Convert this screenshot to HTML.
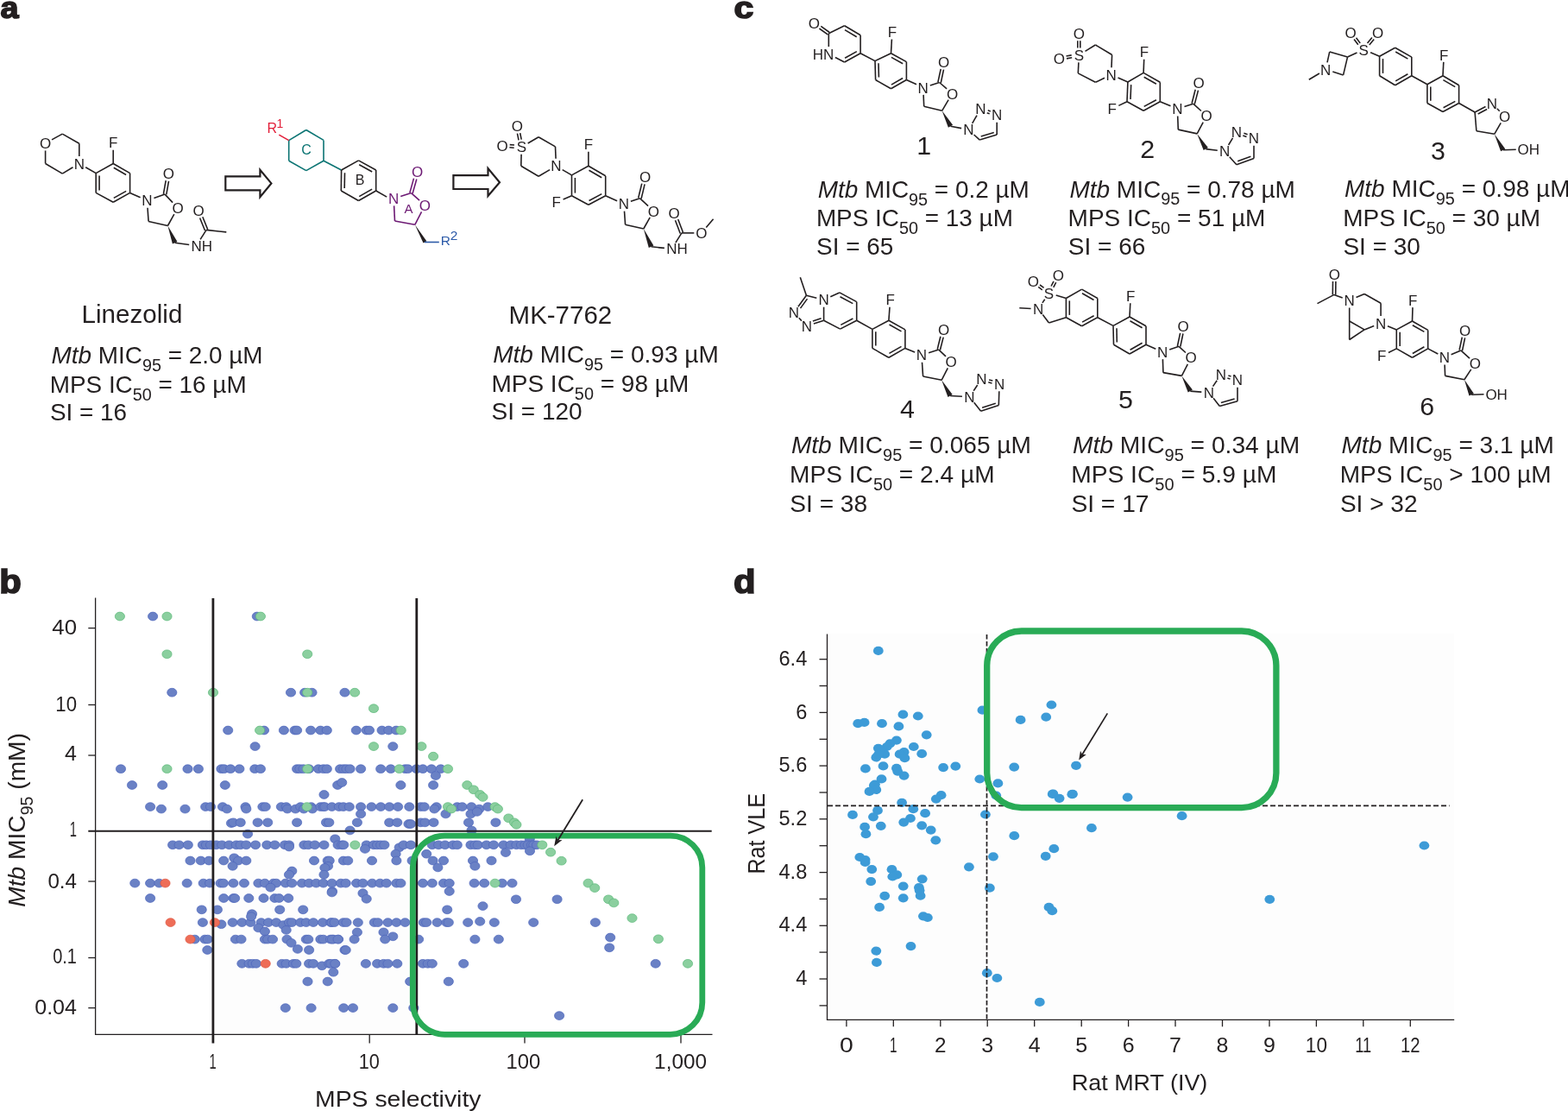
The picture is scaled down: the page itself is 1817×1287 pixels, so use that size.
<!DOCTYPE html>
<html><head><meta charset="utf-8"><title>Figure</title>
<style>
html,body{margin:0;padding:0;background:#fff;overflow:hidden;width:1817px;height:1287px;}
svg{display:block;}
svg{font-family:"Liberation Sans",Arial,Helvetica,sans-serif;fill:#231f20;}
</style></head><body>
<svg width="1817" height="1287" viewBox="0 0 1817 1287">
<rect width="1817" height="1287" fill="#fff"/>
<line x1="60" y1="161.9" x2="72.3" y2="155.1" stroke="#231f20" stroke-width="1.6"/>
<line x1="72.3" y1="155.1" x2="91.8" y2="166.2" stroke="#231f20" stroke-width="1.6"/>
<line x1="91.8" y1="166.2" x2="91.8" y2="181" stroke="#231f20" stroke-width="1.6"/>
<line x1="84.5" y1="193.8" x2="72.3" y2="201.1" stroke="#231f20" stroke-width="1.6"/>
<line x1="72.3" y1="201.1" x2="52.6" y2="189.5" stroke="#231f20" stroke-width="1.6"/>
<line x1="52.6" y1="189.5" x2="52.6" y2="174.5" stroke="#231f20" stroke-width="1.6"/>
<line x1="99.2" y1="193.7" x2="111.2" y2="200.6" stroke="#231f20" stroke-width="1.6"/>
<line x1="131.2" y1="189.5" x2="131.2" y2="173.7" stroke="#231f20" stroke-width="1.6"/>
<line x1="111.2" y1="200.6" x2="131.2" y2="189.5" stroke="#231f20" stroke-width="1.6"/>
<line x1="131.2" y1="189.5" x2="150.6" y2="200.6" stroke="#231f20" stroke-width="1.6"/>
<line x1="150.6" y1="200.6" x2="150.6" y2="223.4" stroke="#231f20" stroke-width="1.6"/>
<line x1="150.6" y1="223.4" x2="131.2" y2="234.2" stroke="#231f20" stroke-width="1.6"/>
<line x1="131.2" y1="234.2" x2="111.2" y2="223.4" stroke="#231f20" stroke-width="1.6"/>
<line x1="111.2" y1="223.4" x2="111.2" y2="200.6" stroke="#231f20" stroke-width="1.6"/>
<line x1="131.8" y1="194.3" x2="146.1" y2="202.5" stroke="#231f20" stroke-width="1.6"/>
<line x1="115.1" y1="220.4" x2="115.1" y2="203.6" stroke="#231f20" stroke-width="1.6"/>
<line x1="146.2" y1="221.4" x2="131.8" y2="229.4" stroke="#231f20" stroke-width="1.6"/>
<line x1="150.6" y1="223.4" x2="162.6" y2="228.7" stroke="#231f20" stroke-width="1.6"/>
<line x1="178.4" y1="229.4" x2="191.1" y2="225.1" stroke="#231f20" stroke-width="1.6"/>
<line x1="191.1" y1="225.1" x2="200.1" y2="234.6" stroke="#231f20" stroke-width="1.6"/>
<line x1="201.8" y1="248.2" x2="194.4" y2="261.5" stroke="#231f20" stroke-width="1.6"/>
<line x1="194.4" y1="261.5" x2="172.1" y2="256.5" stroke="#231f20" stroke-width="1.6"/>
<line x1="172.1" y1="256.5" x2="171" y2="240.7" stroke="#231f20" stroke-width="1.6"/>
<line x1="192.8" y1="225.4" x2="195.5" y2="209.8" stroke="#231f20" stroke-width="1.6"/>
<line x1="189.4" y1="224.8" x2="192.2" y2="209.2" stroke="#231f20" stroke-width="1.6"/>
<polygon points="194.4,261.5 199.9,282.5 205.5,280.1" fill="#231f20"/>
<line x1="202.7" y1="281.3" x2="219.2" y2="283.5" stroke="#231f20" stroke-width="1.6"/>
<line x1="232.1" y1="277.4" x2="239.1" y2="266.4" stroke="#231f20" stroke-width="1.6"/>
<line x1="239.1" y1="266.4" x2="262.3" y2="268.9" stroke="#231f20" stroke-width="1.6"/>
<line x1="240.7" y1="265.8" x2="234.8" y2="251.2" stroke="#231f20" stroke-width="1.6"/>
<line x1="237.5" y1="267" x2="231.6" y2="252.5" stroke="#231f20" stroke-width="1.6"/>
<text x="52.6" y="172.1" font-size="17" fill="#231f20" text-anchor="middle">O</text>
<text x="91.8" y="195.6" font-size="17" fill="#231f20" text-anchor="middle">N</text>
<text x="131.2" y="171.3" font-size="17" fill="#231f20" text-anchor="middle">F</text>
<text x="170.4" y="238.3" font-size="17" fill="#231f20" text-anchor="middle">N</text>
<text x="195.3" y="207.2" font-size="17" fill="#231f20" text-anchor="middle">O</text>
<text x="206" y="246.9" font-size="17" fill="#231f20" text-anchor="middle">O</text>
<text x="221.5" y="290.7" font-size="17" fill="#231f20">NH</text>
<text x="230" y="250.1" font-size="17" fill="#231f20" text-anchor="middle">O</text>
<line x1="354.8" y1="150.5" x2="375" y2="162.4" stroke="#0b7473" stroke-width="1.6"/>
<line x1="375" y1="162.4" x2="375" y2="186.2" stroke="#0b7473" stroke-width="1.6"/>
<line x1="375" y1="186.2" x2="354.8" y2="197.6" stroke="#0b7473" stroke-width="1.6"/>
<line x1="354.8" y1="197.6" x2="334.7" y2="186.2" stroke="#0b7473" stroke-width="1.6"/>
<line x1="334.7" y1="186.2" x2="334.7" y2="162.6" stroke="#0b7473" stroke-width="1.6"/>
<line x1="334.7" y1="162.6" x2="354.8" y2="150.5" stroke="#0b7473" stroke-width="1.6"/>
<line x1="375" y1="186.2" x2="395.6" y2="197" stroke="#0b7473" stroke-width="1.6"/>
<line x1="334.7" y1="162.6" x2="323.3" y2="156.1" stroke="#e2203a" stroke-width="1.6"/>
<line x1="395.6" y1="197" x2="415.5" y2="185.9" stroke="#231f20" stroke-width="1.6"/>
<line x1="415.5" y1="185.9" x2="435.7" y2="197" stroke="#231f20" stroke-width="1.6"/>
<line x1="435.7" y1="197" x2="435.7" y2="221" stroke="#231f20" stroke-width="1.6"/>
<line x1="435.7" y1="221" x2="415.5" y2="232.5" stroke="#231f20" stroke-width="1.6"/>
<line x1="415.5" y1="232.5" x2="395.3" y2="221" stroke="#231f20" stroke-width="1.6"/>
<line x1="395.3" y1="221" x2="395.6" y2="197" stroke="#231f20" stroke-width="1.6"/>
<line x1="416.2" y1="190.8" x2="431.2" y2="199" stroke="#231f20" stroke-width="1.6"/>
<line x1="399.2" y1="217.9" x2="399.5" y2="200.2" stroke="#231f20" stroke-width="1.6"/>
<line x1="431.1" y1="219.1" x2="416.2" y2="227.6" stroke="#231f20" stroke-width="1.6"/>
<line x1="435.7" y1="221" x2="448.2" y2="228.1" stroke="#231f20" stroke-width="1.6"/>
<line x1="464.2" y1="227.4" x2="476.5" y2="223.6" stroke="#6d1a74" stroke-width="1.6"/>
<line x1="476.5" y1="223.6" x2="486.1" y2="232.1" stroke="#6d1a74" stroke-width="1.6"/>
<line x1="488.5" y1="245.4" x2="480.8" y2="260.3" stroke="#6d1a74" stroke-width="1.6"/>
<line x1="480.8" y1="260.3" x2="457.5" y2="256" stroke="#6d1a74" stroke-width="1.6"/>
<line x1="457.5" y1="256" x2="456.6" y2="238.4" stroke="#6d1a74" stroke-width="1.6"/>
<line x1="478.1" y1="224.1" x2="482.8" y2="207.5" stroke="#6d1a74" stroke-width="1.6"/>
<line x1="474.9" y1="223.1" x2="479.5" y2="206.6" stroke="#6d1a74" stroke-width="1.6"/>
<polygon points="480.8,260.3 490.5,281.4 494.3,279.2" fill="#231f20"/>
<line x1="492" y1="280.5" x2="508.8" y2="280.5" stroke="#2c5aa8" stroke-width="1.6"/>
<text x="456.1" y="236" font-size="17" fill="#6d1a74" text-anchor="middle">N</text>
<text x="483.5" y="205" font-size="17" fill="#6d1a74" text-anchor="middle">O</text>
<text x="492.4" y="243.9" font-size="17" fill="#6d1a74" text-anchor="middle">O</text>
<text x="355" y="178.6" font-size="16" fill="#0b7473" text-anchor="middle">C</text>
<text x="417.1" y="214.2" font-size="16" fill="#231f20" text-anchor="middle">B</text>
<text x="473.4" y="246.7" font-size="15" fill="#6d1a74" text-anchor="middle">A</text>
<text x="309.6" y="153.8" font-size="16" fill="#e2203a">R</text>
<text x="320.4" y="148.2" font-size="14" fill="#e2203a">1</text>
<text x="510.8" y="283.6" font-size="15.5" fill="#2c5aa8">R</text>
<text x="521.8" y="277.8" font-size="15.5" fill="#2c5aa8">2</text>
<line x1="611.7" y1="166" x2="624.1" y2="158.8" stroke="#231f20" stroke-width="1.6"/>
<line x1="624.1" y1="158.8" x2="643.5" y2="169.9" stroke="#231f20" stroke-width="1.6"/>
<line x1="643.5" y1="169.9" x2="644.1" y2="183.8" stroke="#231f20" stroke-width="1.6"/>
<line x1="637.1" y1="196.6" x2="624.1" y2="204.3" stroke="#231f20" stroke-width="1.6"/>
<line x1="624.1" y1="204.3" x2="603.8" y2="192.3" stroke="#231f20" stroke-width="1.6"/>
<line x1="603.8" y1="192.3" x2="604.1" y2="178.8" stroke="#231f20" stroke-width="1.6"/>
<line x1="651.7" y1="196.6" x2="662.5" y2="202.9" stroke="#231f20" stroke-width="1.6"/>
<line x1="681.9" y1="192.3" x2="681.9" y2="175.7" stroke="#231f20" stroke-width="1.6"/>
<line x1="662.5" y1="226.7" x2="652.6" y2="230.9" stroke="#231f20" stroke-width="1.6"/>
<line x1="604.2" y1="161.7" x2="602.7" y2="154.1" stroke="#231f20" stroke-width="1.6"/>
<line x1="601" y1="162.3" x2="599.5" y2="154.7" stroke="#231f20" stroke-width="1.6"/>
<line x1="596" y1="168" x2="590.7" y2="167.6" stroke="#231f20" stroke-width="1.6"/>
<line x1="595.7" y1="171.2" x2="590.4" y2="170.8" stroke="#231f20" stroke-width="1.6"/>
<line x1="662.5" y1="202.9" x2="681.9" y2="192.3" stroke="#231f20" stroke-width="1.6"/>
<line x1="681.9" y1="192.3" x2="701.7" y2="203.8" stroke="#231f20" stroke-width="1.6"/>
<line x1="701.7" y1="203.8" x2="701.7" y2="226.7" stroke="#231f20" stroke-width="1.6"/>
<line x1="701.7" y1="226.7" x2="681.9" y2="237.3" stroke="#231f20" stroke-width="1.6"/>
<line x1="681.9" y1="237.3" x2="662.5" y2="226.7" stroke="#231f20" stroke-width="1.6"/>
<line x1="662.5" y1="226.7" x2="662.5" y2="202.9" stroke="#231f20" stroke-width="1.6"/>
<line x1="682.5" y1="197.2" x2="697.2" y2="205.7" stroke="#231f20" stroke-width="1.6"/>
<line x1="666.4" y1="223.6" x2="666.4" y2="206" stroke="#231f20" stroke-width="1.6"/>
<line x1="697.3" y1="224.6" x2="682.6" y2="232.5" stroke="#231f20" stroke-width="1.6"/>
<line x1="701.7" y1="226.7" x2="715.1" y2="232.7" stroke="#231f20" stroke-width="1.6"/>
<line x1="730.9" y1="233.3" x2="741.4" y2="229.7" stroke="#231f20" stroke-width="1.6"/>
<line x1="741.4" y1="229.7" x2="751.1" y2="238.6" stroke="#231f20" stroke-width="1.6"/>
<line x1="753.2" y1="251.8" x2="745.8" y2="265" stroke="#231f20" stroke-width="1.6"/>
<line x1="745.8" y1="265" x2="724.6" y2="260.2" stroke="#231f20" stroke-width="1.6"/>
<line x1="724.6" y1="260.2" x2="723.5" y2="244.6" stroke="#231f20" stroke-width="1.6"/>
<line x1="743.1" y1="230.1" x2="747.1" y2="213.4" stroke="#231f20" stroke-width="1.6"/>
<line x1="739.7" y1="229.3" x2="743.8" y2="212.6" stroke="#231f20" stroke-width="1.6"/>
<polygon points="745.8,265 751.8,287 757.4,284.6" fill="#231f20"/>
<line x1="754.6" y1="285.8" x2="769.9" y2="287.4" stroke="#231f20" stroke-width="1.6"/>
<line x1="782.9" y1="281.1" x2="789.9" y2="269.9" stroke="#231f20" stroke-width="1.6"/>
<line x1="789.9" y1="269.9" x2="804.3" y2="269.9" stroke="#231f20" stroke-width="1.6"/>
<line x1="818.3" y1="263.4" x2="826.6" y2="253.7" stroke="#231f20" stroke-width="1.6"/>
<line x1="791.5" y1="269.3" x2="785.7" y2="254" stroke="#231f20" stroke-width="1.6"/>
<line x1="788.3" y1="270.5" x2="782.5" y2="255.3" stroke="#231f20" stroke-width="1.6"/>
<text x="604.3" y="176.4" font-size="17" fill="#231f20" text-anchor="middle">S</text>
<text x="599.4" y="152.2" font-size="17" fill="#231f20" text-anchor="middle">O</text>
<text x="582.1" y="174.6" font-size="17" fill="#231f20" text-anchor="middle">O</text>
<text x="644.4" y="198.4" font-size="17" fill="#231f20" text-anchor="middle">N</text>
<text x="681.9" y="173.3" font-size="17" fill="#231f20" text-anchor="middle">F</text>
<text x="644.8" y="240.4" font-size="17" fill="#231f20" text-anchor="middle">F</text>
<text x="722.9" y="242.2" font-size="17" fill="#231f20" text-anchor="middle">N</text>
<text x="747.5" y="210.8" font-size="17" fill="#231f20" text-anchor="middle">O</text>
<text x="757.3" y="250.5" font-size="17" fill="#231f20" text-anchor="middle">O</text>
<text x="772.3" y="294.4" font-size="17" fill="#231f20">NH</text>
<text x="781.1" y="252.8" font-size="17" fill="#231f20" text-anchor="middle">O</text>
<text x="812.8" y="276" font-size="17" fill="#231f20" text-anchor="middle">O</text>
<polygon points="261.3,204.4 301.4,204.4 301.4,196.7 314.4,212.4 301.4,228.1 301.4,220.4 261.3,220.4" fill="#fff" stroke="#231f20" stroke-width="2.2" stroke-linejoin="miter"/>
<polygon points="525.4,203.2 565.5,203.2 565.5,195.1 579,211.2 565.5,227 565.5,219 525.4,219" fill="#fff" stroke="#231f20" stroke-width="2.2" stroke-linejoin="miter"/>
<line x1="960.3" y1="38.8" x2="978.6" y2="29.8" stroke="#231f20" stroke-width="1.6"/>
<line x1="978.6" y1="29.8" x2="997.1" y2="40.8" stroke="#231f20" stroke-width="1.6"/>
<line x1="997.1" y1="40.8" x2="997.1" y2="61.7" stroke="#231f20" stroke-width="1.6"/>
<line x1="997.1" y1="61.7" x2="978.6" y2="72" stroke="#231f20" stroke-width="1.6"/>
<line x1="978.6" y1="72" x2="967.9" y2="66.5" stroke="#231f20" stroke-width="1.6"/>
<line x1="960.3" y1="54.1" x2="960.3" y2="38.8" stroke="#231f20" stroke-width="1.6"/>
<line x1="997.1" y1="61.7" x2="1014" y2="70.6" stroke="#231f20" stroke-width="1.6"/>
<line x1="1032.5" y1="61.7" x2="1033.4" y2="45.5" stroke="#231f20" stroke-width="1.6"/>
<line x1="961.2" y1="37.5" x2="951.3" y2="30.4" stroke="#231f20" stroke-width="1.6"/>
<line x1="959.4" y1="40.1" x2="949.4" y2="33" stroke="#231f20" stroke-width="1.6"/>
<line x1="979" y1="34.6" x2="992.7" y2="42.7" stroke="#231f20" stroke-width="1.6"/>
<line x1="992.8" y1="59.6" x2="979.1" y2="67.3" stroke="#231f20" stroke-width="1.6"/>
<line x1="1014" y1="70.6" x2="1032.5" y2="61.7" stroke="#231f20" stroke-width="1.6"/>
<line x1="1032.5" y1="61.7" x2="1050.4" y2="71.6" stroke="#231f20" stroke-width="1.6"/>
<line x1="1050.4" y1="71.6" x2="1050.4" y2="92.5" stroke="#231f20" stroke-width="1.6"/>
<line x1="1050.4" y1="92.5" x2="1032.5" y2="102.8" stroke="#231f20" stroke-width="1.6"/>
<line x1="1032.5" y1="102.8" x2="1014.6" y2="92.5" stroke="#231f20" stroke-width="1.6"/>
<line x1="1014.6" y1="92.5" x2="1014" y2="70.6" stroke="#231f20" stroke-width="1.6"/>
<line x1="1032.9" y1="66.4" x2="1046.2" y2="73.7" stroke="#231f20" stroke-width="1.6"/>
<line x1="1018.4" y1="89.5" x2="1018" y2="73.3" stroke="#231f20" stroke-width="1.6"/>
<line x1="1046.1" y1="90.5" x2="1032.9" y2="98.1" stroke="#231f20" stroke-width="1.6"/>
<line x1="1050.4" y1="92.5" x2="1062" y2="97.8" stroke="#231f20" stroke-width="1.6"/>
<line x1="1077.8" y1="98.9" x2="1088.6" y2="95.5" stroke="#231f20" stroke-width="1.6"/>
<line x1="1088.6" y1="95.5" x2="1097.1" y2="102.8" stroke="#231f20" stroke-width="1.6"/>
<line x1="1099.1" y1="115.7" x2="1091.6" y2="128.3" stroke="#231f20" stroke-width="1.6"/>
<line x1="1091.6" y1="128.3" x2="1070.7" y2="123.3" stroke="#231f20" stroke-width="1.6"/>
<line x1="1070.7" y1="123.3" x2="1070.1" y2="109.9" stroke="#231f20" stroke-width="1.6"/>
<line x1="1090.3" y1="95.9" x2="1093.5" y2="80.7" stroke="#231f20" stroke-width="1.6"/>
<line x1="1086.9" y1="95.1" x2="1090.2" y2="80" stroke="#231f20" stroke-width="1.6"/>
<polygon points="1091.6,128.3 1098.9,147.7 1104.1,144.7" fill="#231f20"/>
<line x1="1101.5" y1="146.2" x2="1114.1" y2="148.6" stroke="#231f20" stroke-width="1.6"/>
<line x1="1126.7" y1="142.9" x2="1132" y2="133.6" stroke="#231f20" stroke-width="1.6"/>
<line x1="1155.2" y1="141.8" x2="1155.2" y2="156.1" stroke="#231f20" stroke-width="1.6"/>
<line x1="1135.3" y1="162.1" x2="1128.6" y2="156" stroke="#231f20" stroke-width="1.6"/>
<line x1="1143.7" y1="130.7" x2="1146.7" y2="131.8" stroke="#231f20" stroke-width="1.6"/>
<line x1="1144.8" y1="127.8" x2="1147.8" y2="128.9" stroke="#231f20" stroke-width="1.6"/>
<line x1="1155.2" y1="156.1" x2="1135.3" y2="162.1" stroke="#231f20" stroke-width="1.6"/>
<line x1="1151.8" y1="153.6" x2="1136.7" y2="158.1" stroke="#231f20" stroke-width="1.6"/>
<text x="943.4" y="32.9" font-size="17" fill="#231f20" text-anchor="middle">O</text>
<text x="966.4" y="68.7" font-size="17" fill="#231f20" text-anchor="end">HN</text>
<text x="1033.9" y="43.1" font-size="17" fill="#231f20" text-anchor="middle">F</text>
<text x="1069.7" y="107.5" font-size="17" fill="#231f20" text-anchor="middle">N</text>
<text x="1093.6" y="78.1" font-size="17" fill="#231f20" text-anchor="middle">O</text>
<text x="1103.5" y="114.5" font-size="17" fill="#231f20" text-anchor="middle">O</text>
<text x="1122.4" y="156.3" font-size="17" fill="#231f20" text-anchor="middle">N</text>
<text x="1136.3" y="132.4" font-size="17" fill="#231f20" text-anchor="middle">N</text>
<text x="1155.2" y="139.4" font-size="17" fill="#231f20" text-anchor="middle">N</text>
<text x="1070.7" y="179" font-size="30.4" fill="#231f20" text-anchor="middle">1</text>
<line x1="1257.5" y1="59.4" x2="1269.4" y2="52" stroke="#231f20" stroke-width="1.6"/>
<line x1="1269.4" y1="52" x2="1288.6" y2="63.5" stroke="#231f20" stroke-width="1.6"/>
<line x1="1288.6" y1="63.5" x2="1288" y2="78.2" stroke="#231f20" stroke-width="1.6"/>
<line x1="1280" y1="90.3" x2="1269.4" y2="95.3" stroke="#231f20" stroke-width="1.6"/>
<line x1="1269.4" y1="95.3" x2="1249.3" y2="84.9" stroke="#231f20" stroke-width="1.6"/>
<line x1="1249.3" y1="84.9" x2="1249.9" y2="72.4" stroke="#231f20" stroke-width="1.6"/>
<line x1="1295.5" y1="90.1" x2="1306.9" y2="95" stroke="#231f20" stroke-width="1.6"/>
<line x1="1325.1" y1="84.4" x2="1325.7" y2="68.8" stroke="#231f20" stroke-width="1.6"/>
<line x1="1306" y1="117.8" x2="1296.3" y2="122.4" stroke="#231f20" stroke-width="1.6"/>
<line x1="1251.8" y1="55.4" x2="1251.8" y2="47.2" stroke="#231f20" stroke-width="1.6"/>
<line x1="1248.8" y1="55.4" x2="1248.8" y2="47.2" stroke="#231f20" stroke-width="1.6"/>
<line x1="1241.7" y1="63.9" x2="1235.5" y2="65" stroke="#231f20" stroke-width="1.6"/>
<line x1="1242.2" y1="66.8" x2="1236" y2="67.9" stroke="#231f20" stroke-width="1.6"/>
<line x1="1306.9" y1="95" x2="1325.1" y2="84.4" stroke="#231f20" stroke-width="1.6"/>
<line x1="1325.1" y1="84.4" x2="1344.3" y2="95.3" stroke="#231f20" stroke-width="1.6"/>
<line x1="1344.3" y1="95.3" x2="1344.3" y2="117.8" stroke="#231f20" stroke-width="1.6"/>
<line x1="1344.3" y1="117.8" x2="1325.1" y2="128.2" stroke="#231f20" stroke-width="1.6"/>
<line x1="1325.1" y1="128.2" x2="1306" y2="117.8" stroke="#231f20" stroke-width="1.6"/>
<line x1="1306" y1="117.8" x2="1306.9" y2="95" stroke="#231f20" stroke-width="1.6"/>
<line x1="1325.7" y1="89.2" x2="1339.9" y2="97.3" stroke="#231f20" stroke-width="1.6"/>
<line x1="1310" y1="115" x2="1310.7" y2="98.1" stroke="#231f20" stroke-width="1.6"/>
<line x1="1339.9" y1="115.7" x2="1325.7" y2="123.4" stroke="#231f20" stroke-width="1.6"/>
<line x1="1344.3" y1="117.8" x2="1356.5" y2="122.8" stroke="#231f20" stroke-width="1.6"/>
<line x1="1372.5" y1="123.4" x2="1382.7" y2="120.2" stroke="#231f20" stroke-width="1.6"/>
<line x1="1382.7" y1="120.2" x2="1391.9" y2="128.5" stroke="#231f20" stroke-width="1.6"/>
<line x1="1394.2" y1="141.7" x2="1387.2" y2="154.9" stroke="#231f20" stroke-width="1.6"/>
<line x1="1387.2" y1="154.9" x2="1365.3" y2="150.1" stroke="#231f20" stroke-width="1.6"/>
<line x1="1365.3" y1="150.1" x2="1364.7" y2="134.5" stroke="#231f20" stroke-width="1.6"/>
<line x1="1384.3" y1="120.6" x2="1388.5" y2="104.6" stroke="#231f20" stroke-width="1.6"/>
<line x1="1381.1" y1="119.8" x2="1385.2" y2="103.7" stroke="#231f20" stroke-width="1.6"/>
<polygon points="1387.2,154.9 1394.7,174.1 1399.9,171.1" fill="#231f20"/>
<line x1="1397.3" y1="172.6" x2="1410.8" y2="174.3" stroke="#231f20" stroke-width="1.6"/>
<line x1="1423.6" y1="168" x2="1428.5" y2="159.8" stroke="#231f20" stroke-width="1.6"/>
<line x1="1453" y1="168.8" x2="1453" y2="183.5" stroke="#231f20" stroke-width="1.6"/>
<line x1="1432.9" y1="190.8" x2="1424.8" y2="181.7" stroke="#231f20" stroke-width="1.6"/>
<line x1="1440.3" y1="157" x2="1444.5" y2="158.6" stroke="#231f20" stroke-width="1.6"/>
<line x1="1441.4" y1="154.2" x2="1445.6" y2="155.8" stroke="#231f20" stroke-width="1.6"/>
<line x1="1453" y1="183.5" x2="1432.9" y2="190.8" stroke="#231f20" stroke-width="1.6"/>
<line x1="1449.4" y1="181.2" x2="1434.2" y2="186.7" stroke="#231f20" stroke-width="1.6"/>
<text x="1250.3" y="70" font-size="17" fill="#231f20" text-anchor="middle">S</text>
<text x="1250.3" y="44.8" font-size="17" fill="#231f20" text-anchor="middle">O</text>
<text x="1227.4" y="74" font-size="17" fill="#231f20" text-anchor="middle">O</text>
<text x="1287.7" y="92.8" font-size="17" fill="#231f20" text-anchor="middle">N</text>
<text x="1326" y="66.4" font-size="17" fill="#231f20" text-anchor="middle">F</text>
<text x="1288.6" y="132.1" font-size="17" fill="#231f20" text-anchor="middle">F</text>
<text x="1364.4" y="132.1" font-size="17" fill="#231f20" text-anchor="middle">N</text>
<text x="1389" y="102" font-size="17" fill="#231f20" text-anchor="middle">O</text>
<text x="1398.2" y="140.3" font-size="17" fill="#231f20" text-anchor="middle">O</text>
<text x="1419.2" y="181.4" font-size="17" fill="#231f20" text-anchor="middle">N</text>
<text x="1432.9" y="158.6" font-size="17" fill="#231f20" text-anchor="middle">N</text>
<text x="1453" y="166.4" font-size="17" fill="#231f20" text-anchor="middle">N</text>
<text x="1329.7" y="182.6" font-size="30.4" fill="#231f20" text-anchor="middle">2</text>
<line x1="1516.8" y1="92.3" x2="1528.9" y2="85" stroke="#231f20" stroke-width="1.6"/>
<line x1="1538" y1="72.3" x2="1540.7" y2="60.1" stroke="#231f20" stroke-width="1.6"/>
<line x1="1540.7" y1="60.1" x2="1561.5" y2="66.1" stroke="#231f20" stroke-width="1.6"/>
<line x1="1561.5" y1="66.1" x2="1556.6" y2="86.9" stroke="#231f20" stroke-width="1.6"/>
<line x1="1556.6" y1="86.9" x2="1544.3" y2="83.1" stroke="#231f20" stroke-width="1.6"/>
<line x1="1561.5" y1="66.1" x2="1572.5" y2="61.1" stroke="#231f20" stroke-width="1.6"/>
<line x1="1588.1" y1="60.8" x2="1598.6" y2="65.2" stroke="#231f20" stroke-width="1.6"/>
<line x1="1635.8" y1="87.8" x2="1653.9" y2="97.8" stroke="#231f20" stroke-width="1.6"/>
<line x1="1672" y1="87.8" x2="1672.8" y2="71.9" stroke="#231f20" stroke-width="1.6"/>
<line x1="1690.6" y1="119.5" x2="1709.1" y2="130" stroke="#231f20" stroke-width="1.6"/>
<line x1="1576.2" y1="50" x2="1571.5" y2="43.8" stroke="#231f20" stroke-width="1.6"/>
<line x1="1573.8" y1="51.8" x2="1569.1" y2="45.6" stroke="#231f20" stroke-width="1.6"/>
<line x1="1586.8" y1="52" x2="1592.2" y2="45.5" stroke="#231f20" stroke-width="1.6"/>
<line x1="1584.5" y1="50.1" x2="1589.9" y2="43.6" stroke="#231f20" stroke-width="1.6"/>
<line x1="1598.6" y1="65.2" x2="1616.7" y2="55.2" stroke="#231f20" stroke-width="1.6"/>
<line x1="1616.7" y1="55.2" x2="1635.8" y2="66.1" stroke="#231f20" stroke-width="1.6"/>
<line x1="1635.8" y1="66.1" x2="1635.8" y2="87.8" stroke="#231f20" stroke-width="1.6"/>
<line x1="1635.8" y1="87.8" x2="1616.7" y2="98.7" stroke="#231f20" stroke-width="1.6"/>
<line x1="1616.7" y1="98.7" x2="1598.6" y2="87.8" stroke="#231f20" stroke-width="1.6"/>
<line x1="1598.6" y1="87.8" x2="1598.6" y2="65.2" stroke="#231f20" stroke-width="1.6"/>
<line x1="1617.2" y1="60" x2="1631.4" y2="68.1" stroke="#231f20" stroke-width="1.6"/>
<line x1="1602.5" y1="84.9" x2="1602.5" y2="68.1" stroke="#231f20" stroke-width="1.6"/>
<line x1="1631.4" y1="85.8" x2="1617.2" y2="93.9" stroke="#231f20" stroke-width="1.6"/>
<line x1="1653.9" y1="97.8" x2="1672" y2="87.8" stroke="#231f20" stroke-width="1.6"/>
<line x1="1672" y1="87.8" x2="1690.6" y2="98.7" stroke="#231f20" stroke-width="1.6"/>
<line x1="1690.6" y1="98.7" x2="1690.6" y2="119.5" stroke="#231f20" stroke-width="1.6"/>
<line x1="1690.6" y1="119.5" x2="1672" y2="129.5" stroke="#231f20" stroke-width="1.6"/>
<line x1="1672" y1="129.5" x2="1653.9" y2="119.5" stroke="#231f20" stroke-width="1.6"/>
<line x1="1653.9" y1="119.5" x2="1653.9" y2="97.8" stroke="#231f20" stroke-width="1.6"/>
<line x1="1672.4" y1="92.6" x2="1686.2" y2="100.6" stroke="#231f20" stroke-width="1.6"/>
<line x1="1657.8" y1="116.7" x2="1657.8" y2="100.6" stroke="#231f20" stroke-width="1.6"/>
<line x1="1686.3" y1="117.4" x2="1672.6" y2="124.8" stroke="#231f20" stroke-width="1.6"/>
<line x1="1709.1" y1="130" x2="1721.5" y2="123.5" stroke="#231f20" stroke-width="1.6"/>
<line x1="1734.8" y1="125.7" x2="1737.7" y2="128.7" stroke="#231f20" stroke-width="1.6"/>
<line x1="1739.2" y1="142.3" x2="1731.7" y2="155.3" stroke="#231f20" stroke-width="1.6"/>
<line x1="1731.7" y1="155.3" x2="1710.9" y2="151.7" stroke="#231f20" stroke-width="1.6"/>
<line x1="1710.9" y1="151.7" x2="1709.1" y2="130" stroke="#231f20" stroke-width="1.6"/>
<line x1="1712.7" y1="132" x2="1723.1" y2="126.5" stroke="#231f20" stroke-width="1.6"/>
<polygon points="1731.7,155.3 1739.1,175.2 1744.3,172.4" fill="#231f20"/>
<line x1="1741.7" y1="173.8" x2="1756.7" y2="173.2" stroke="#231f20" stroke-width="1.6"/>
<text x="1536.2" y="86.7" font-size="17" fill="#231f20" text-anchor="middle">N</text>
<text x="1580.2" y="63.7" font-size="17" fill="#231f20" text-anchor="middle">S</text>
<text x="1565.1" y="44.1" font-size="17" fill="#231f20" text-anchor="middle">O</text>
<text x="1596.5" y="44.1" font-size="17" fill="#231f20" text-anchor="middle">O</text>
<text x="1673.2" y="69.5" font-size="17" fill="#231f20" text-anchor="middle">F</text>
<text x="1729" y="125.6" font-size="17" fill="#231f20" text-anchor="middle">N</text>
<text x="1743.5" y="141" font-size="17" fill="#231f20" text-anchor="middle">O</text>
<text x="1758.6" y="179" font-size="17" fill="#231f20">OH</text>
<text x="1666.5" y="184.7" font-size="30.4" fill="#231f20" text-anchor="middle">3</text>
<line x1="927.3" y1="321.2" x2="934.4" y2="342.2" stroke="#231f20" stroke-width="1.6"/>
<line x1="934.4" y1="342.2" x2="946.3" y2="345.2" stroke="#231f20" stroke-width="1.6"/>
<line x1="934.4" y1="342.2" x2="924.9" y2="355.2" stroke="#231f20" stroke-width="1.6"/>
<line x1="925.8" y1="368.3" x2="928.9" y2="371.6" stroke="#231f20" stroke-width="1.6"/>
<line x1="942.9" y1="375.1" x2="954.6" y2="371.2" stroke="#231f20" stroke-width="1.6"/>
<line x1="954.6" y1="371.2" x2="954.6" y2="355.7" stroke="#231f20" stroke-width="1.6"/>
<line x1="962.3" y1="343.7" x2="972.8" y2="338.9" stroke="#231f20" stroke-width="1.6"/>
<line x1="972.8" y1="338.9" x2="992.7" y2="349.6" stroke="#231f20" stroke-width="1.6"/>
<line x1="992.7" y1="349.6" x2="992.7" y2="371.2" stroke="#231f20" stroke-width="1.6"/>
<line x1="992.7" y1="371.2" x2="973.6" y2="381.1" stroke="#231f20" stroke-width="1.6"/>
<line x1="973.6" y1="381.1" x2="954.6" y2="371.2" stroke="#231f20" stroke-width="1.6"/>
<line x1="992.7" y1="371.2" x2="1010.9" y2="381.4" stroke="#231f20" stroke-width="1.6"/>
<line x1="1029.9" y1="371.2" x2="1031" y2="355.7" stroke="#231f20" stroke-width="1.6"/>
<line x1="935.5" y1="346.1" x2="927.5" y2="357.1" stroke="#231f20" stroke-width="1.6"/>
<line x1="941.9" y1="372.1" x2="951.6" y2="368.8" stroke="#231f20" stroke-width="1.6"/>
<line x1="973.5" y1="343.7" x2="988.3" y2="351.6" stroke="#231f20" stroke-width="1.6"/>
<line x1="988.4" y1="369" x2="974.3" y2="376.4" stroke="#231f20" stroke-width="1.6"/>
<line x1="1010.9" y1="381.4" x2="1029.9" y2="371.2" stroke="#231f20" stroke-width="1.6"/>
<line x1="1029.9" y1="371.2" x2="1048.9" y2="381.9" stroke="#231f20" stroke-width="1.6"/>
<line x1="1048.9" y1="381.9" x2="1048.9" y2="403.4" stroke="#231f20" stroke-width="1.6"/>
<line x1="1048.9" y1="403.4" x2="1029.9" y2="414.2" stroke="#231f20" stroke-width="1.6"/>
<line x1="1029.9" y1="414.2" x2="1010.9" y2="403.4" stroke="#231f20" stroke-width="1.6"/>
<line x1="1010.9" y1="403.4" x2="1010.9" y2="381.4" stroke="#231f20" stroke-width="1.6"/>
<line x1="1030.5" y1="376" x2="1044.5" y2="383.9" stroke="#231f20" stroke-width="1.6"/>
<line x1="1014.8" y1="400.5" x2="1014.8" y2="384.3" stroke="#231f20" stroke-width="1.6"/>
<line x1="1044.5" y1="401.4" x2="1030.4" y2="409.4" stroke="#231f20" stroke-width="1.6"/>
<line x1="1048.9" y1="403.4" x2="1060.1" y2="408" stroke="#231f20" stroke-width="1.6"/>
<line x1="1076.1" y1="408.7" x2="1087.8" y2="405.1" stroke="#231f20" stroke-width="1.6"/>
<line x1="1087.8" y1="405.1" x2="1096" y2="412.9" stroke="#231f20" stroke-width="1.6"/>
<line x1="1098.3" y1="426.4" x2="1091.1" y2="440.3" stroke="#231f20" stroke-width="1.6"/>
<line x1="1091.1" y1="440.3" x2="1069.6" y2="436" stroke="#231f20" stroke-width="1.6"/>
<line x1="1069.6" y1="436" x2="1068.5" y2="419.7" stroke="#231f20" stroke-width="1.6"/>
<line x1="1089.4" y1="405.5" x2="1093.2" y2="390.6" stroke="#231f20" stroke-width="1.6"/>
<line x1="1086.2" y1="404.7" x2="1089.9" y2="389.7" stroke="#231f20" stroke-width="1.6"/>
<polygon points="1091.1,440.3 1098.5,459.9 1103.7,457.1" fill="#231f20"/>
<line x1="1101.1" y1="458.5" x2="1114.9" y2="459.2" stroke="#231f20" stroke-width="1.6"/>
<line x1="1128.2" y1="452.7" x2="1132.7" y2="446" stroke="#231f20" stroke-width="1.6"/>
<line x1="1157.8" y1="453.3" x2="1157.3" y2="469.6" stroke="#231f20" stroke-width="1.6"/>
<line x1="1136.6" y1="476.2" x2="1128.7" y2="466.3" stroke="#231f20" stroke-width="1.6"/>
<line x1="1145.3" y1="442.7" x2="1149.5" y2="443.9" stroke="#231f20" stroke-width="1.6"/>
<line x1="1146.1" y1="439.9" x2="1150.3" y2="441.1" stroke="#231f20" stroke-width="1.6"/>
<line x1="1157.3" y1="469.6" x2="1136.6" y2="476.2" stroke="#231f20" stroke-width="1.6"/>
<line x1="1153.8" y1="467.2" x2="1138.1" y2="472.2" stroke="#231f20" stroke-width="1.6"/>
<text x="954.6" y="353.3" font-size="17" fill="#231f20" text-anchor="middle">N</text>
<text x="919.9" y="368.2" font-size="17" fill="#231f20" text-anchor="middle">N</text>
<text x="934.8" y="383.9" font-size="17" fill="#231f20" text-anchor="middle">N</text>
<text x="1031.6" y="353.3" font-size="17" fill="#231f20" text-anchor="middle">F</text>
<text x="1068" y="417.3" font-size="17" fill="#231f20" text-anchor="middle">N</text>
<text x="1093.6" y="388" font-size="17" fill="#231f20" text-anchor="middle">O</text>
<text x="1102.2" y="424.9" font-size="17" fill="#231f20" text-anchor="middle">O</text>
<text x="1123.4" y="465.8" font-size="17" fill="#231f20" text-anchor="middle">N</text>
<text x="1137.5" y="445.1" font-size="17" fill="#231f20" text-anchor="middle">N</text>
<text x="1158.1" y="450.9" font-size="17" fill="#231f20" text-anchor="middle">N</text>
<text x="1051.4" y="483.7" font-size="30.4" fill="#231f20" text-anchor="middle">4</text>
<line x1="1181.3" y1="356.8" x2="1194.6" y2="357.5" stroke="#231f20" stroke-width="1.6"/>
<line x1="1207.9" y1="350.9" x2="1210.7" y2="346.7" stroke="#231f20" stroke-width="1.6"/>
<line x1="1223.7" y1="342.1" x2="1235.4" y2="345.5" stroke="#231f20" stroke-width="1.6"/>
<line x1="1208.3" y1="364.6" x2="1215.5" y2="374.1" stroke="#231f20" stroke-width="1.6"/>
<line x1="1215.5" y1="374.1" x2="1235.4" y2="367.8" stroke="#231f20" stroke-width="1.6"/>
<line x1="1271.8" y1="367.8" x2="1290" y2="377.4" stroke="#231f20" stroke-width="1.6"/>
<line x1="1309" y1="367" x2="1309.8" y2="351.2" stroke="#231f20" stroke-width="1.6"/>
<line x1="1209.6" y1="333.4" x2="1205" y2="330" stroke="#231f20" stroke-width="1.6"/>
<line x1="1207.8" y1="335.8" x2="1203.2" y2="332.4" stroke="#231f20" stroke-width="1.6"/>
<line x1="1220.8" y1="332.9" x2="1223.7" y2="327.2" stroke="#231f20" stroke-width="1.6"/>
<line x1="1218.1" y1="331.5" x2="1221" y2="325.8" stroke="#231f20" stroke-width="1.6"/>
<line x1="1235.4" y1="345.5" x2="1253.6" y2="335.1" stroke="#231f20" stroke-width="1.6"/>
<line x1="1253.6" y1="335.1" x2="1271.8" y2="345.5" stroke="#231f20" stroke-width="1.6"/>
<line x1="1271.8" y1="345.5" x2="1271.8" y2="367.8" stroke="#231f20" stroke-width="1.6"/>
<line x1="1271.8" y1="367.8" x2="1253.6" y2="377.8" stroke="#231f20" stroke-width="1.6"/>
<line x1="1253.6" y1="377.8" x2="1235.4" y2="367.8" stroke="#231f20" stroke-width="1.6"/>
<line x1="1235.4" y1="367.8" x2="1235.4" y2="345.5" stroke="#231f20" stroke-width="1.6"/>
<line x1="1254" y1="339.8" x2="1267.5" y2="347.5" stroke="#231f20" stroke-width="1.6"/>
<line x1="1239.3" y1="364.9" x2="1239.3" y2="348.4" stroke="#231f20" stroke-width="1.6"/>
<line x1="1267.6" y1="365.7" x2="1254.1" y2="373.1" stroke="#231f20" stroke-width="1.6"/>
<line x1="1290" y1="377.4" x2="1309" y2="367" stroke="#231f20" stroke-width="1.6"/>
<line x1="1309" y1="367" x2="1328" y2="377.8" stroke="#231f20" stroke-width="1.6"/>
<line x1="1328" y1="377.8" x2="1328" y2="399.3" stroke="#231f20" stroke-width="1.6"/>
<line x1="1328" y1="399.3" x2="1309" y2="410" stroke="#231f20" stroke-width="1.6"/>
<line x1="1309" y1="410" x2="1290.5" y2="399.3" stroke="#231f20" stroke-width="1.6"/>
<line x1="1290.5" y1="399.3" x2="1290" y2="377.4" stroke="#231f20" stroke-width="1.6"/>
<line x1="1309.5" y1="371.8" x2="1323.6" y2="379.8" stroke="#231f20" stroke-width="1.6"/>
<line x1="1294.3" y1="396.4" x2="1294" y2="380.2" stroke="#231f20" stroke-width="1.6"/>
<line x1="1323.6" y1="397.3" x2="1309.6" y2="405.2" stroke="#231f20" stroke-width="1.6"/>
<line x1="1328" y1="399.3" x2="1339.3" y2="404.2" stroke="#231f20" stroke-width="1.6"/>
<line x1="1355.2" y1="404.9" x2="1366.1" y2="401.3" stroke="#231f20" stroke-width="1.6"/>
<line x1="1366.1" y1="401.3" x2="1373.9" y2="408.5" stroke="#231f20" stroke-width="1.6"/>
<line x1="1376.3" y1="421.8" x2="1369.4" y2="435.4" stroke="#231f20" stroke-width="1.6"/>
<line x1="1369.4" y1="435.4" x2="1347.9" y2="431.6" stroke="#231f20" stroke-width="1.6"/>
<line x1="1347.9" y1="431.6" x2="1347.4" y2="416.1" stroke="#231f20" stroke-width="1.6"/>
<line x1="1367.8" y1="401.6" x2="1370.9" y2="386.5" stroke="#231f20" stroke-width="1.6"/>
<line x1="1364.4" y1="401" x2="1367.6" y2="385.8" stroke="#231f20" stroke-width="1.6"/>
<polygon points="1369.4,435.4 1376.7,454.6 1381.9,451.6" fill="#231f20"/>
<line x1="1379.3" y1="453.1" x2="1392.3" y2="454.1" stroke="#231f20" stroke-width="1.6"/>
<line x1="1405.5" y1="447.6" x2="1410.2" y2="440.8" stroke="#231f20" stroke-width="1.6"/>
<line x1="1434" y1="448.8" x2="1434" y2="464.7" stroke="#231f20" stroke-width="1.6"/>
<line x1="1413.3" y1="470.4" x2="1406.1" y2="461.3" stroke="#231f20" stroke-width="1.6"/>
<line x1="1422.4" y1="437.9" x2="1425.5" y2="438.9" stroke="#231f20" stroke-width="1.6"/>
<line x1="1423.4" y1="435.1" x2="1426.5" y2="436.1" stroke="#231f20" stroke-width="1.6"/>
<line x1="1434" y1="464.7" x2="1413.3" y2="470.4" stroke="#231f20" stroke-width="1.6"/>
<line x1="1430.6" y1="462.1" x2="1414.9" y2="466.4" stroke="#231f20" stroke-width="1.6"/>
<text x="1203.1" y="364" font-size="17" fill="#231f20" text-anchor="middle">N</text>
<text x="1215.5" y="345.8" font-size="17" fill="#231f20" text-anchor="middle">S</text>
<text x="1197.3" y="332.2" font-size="17" fill="#231f20" text-anchor="middle">O</text>
<text x="1226.3" y="325.1" font-size="17" fill="#231f20" text-anchor="middle">O</text>
<text x="1310.3" y="348.8" font-size="17" fill="#231f20" text-anchor="middle">F</text>
<text x="1347.1" y="413.7" font-size="17" fill="#231f20" text-anchor="middle">N</text>
<text x="1371" y="383.9" font-size="17" fill="#231f20" text-anchor="middle">O</text>
<text x="1380.2" y="420.3" font-size="17" fill="#231f20" text-anchor="middle">O</text>
<text x="1400.8" y="460.8" font-size="17" fill="#231f20" text-anchor="middle">N</text>
<text x="1414.9" y="439.8" font-size="17" fill="#231f20" text-anchor="middle">N</text>
<text x="1434" y="446.4" font-size="17" fill="#231f20" text-anchor="middle">N</text>
<text x="1304.4" y="472.9" font-size="30.4" fill="#231f20" text-anchor="middle">5</text>
<line x1="1546" y1="341.4" x2="1526.5" y2="351.6" stroke="#231f20" stroke-width="1.6"/>
<line x1="1546" y1="341.4" x2="1555.7" y2="345" stroke="#231f20" stroke-width="1.6"/>
<line x1="1571.5" y1="344.6" x2="1581.1" y2="340.5" stroke="#231f20" stroke-width="1.6"/>
<line x1="1581.1" y1="340.5" x2="1600.1" y2="351.3" stroke="#231f20" stroke-width="1.6"/>
<line x1="1600.1" y1="351.3" x2="1600.1" y2="366" stroke="#231f20" stroke-width="1.6"/>
<line x1="1563.7" y1="356.5" x2="1563.7" y2="372" stroke="#231f20" stroke-width="1.6"/>
<line x1="1563.7" y1="372" x2="1581.1" y2="381.9" stroke="#231f20" stroke-width="1.6"/>
<line x1="1581.1" y1="381.9" x2="1563.7" y2="393.5" stroke="#231f20" stroke-width="1.6"/>
<line x1="1563.7" y1="393.5" x2="1563.7" y2="372" stroke="#231f20" stroke-width="1.6"/>
<line x1="1581.1" y1="381.9" x2="1592.2" y2="377.6" stroke="#231f20" stroke-width="1.6"/>
<line x1="1608" y1="377.7" x2="1618.3" y2="381.9" stroke="#231f20" stroke-width="1.6"/>
<line x1="1636.5" y1="372" x2="1637" y2="356.1" stroke="#231f20" stroke-width="1.6"/>
<line x1="1618.3" y1="403.9" x2="1608.9" y2="408.5" stroke="#231f20" stroke-width="1.6"/>
<line x1="1547.7" y1="341.4" x2="1547.9" y2="325.9" stroke="#231f20" stroke-width="1.6"/>
<line x1="1544.3" y1="341.4" x2="1544.5" y2="325.9" stroke="#231f20" stroke-width="1.6"/>
<line x1="1618.3" y1="381.9" x2="1636.5" y2="372" stroke="#231f20" stroke-width="1.6"/>
<line x1="1636.5" y1="372" x2="1654.7" y2="382.4" stroke="#231f20" stroke-width="1.6"/>
<line x1="1654.7" y1="382.4" x2="1654.7" y2="403.9" stroke="#231f20" stroke-width="1.6"/>
<line x1="1654.7" y1="403.9" x2="1636.5" y2="414.2" stroke="#231f20" stroke-width="1.6"/>
<line x1="1636.5" y1="414.2" x2="1618.3" y2="403.9" stroke="#231f20" stroke-width="1.6"/>
<line x1="1618.3" y1="403.9" x2="1618.3" y2="381.9" stroke="#231f20" stroke-width="1.6"/>
<line x1="1636.9" y1="376.7" x2="1650.4" y2="384.4" stroke="#231f20" stroke-width="1.6"/>
<line x1="1622.2" y1="401" x2="1622.2" y2="384.8" stroke="#231f20" stroke-width="1.6"/>
<line x1="1650.4" y1="401.8" x2="1636.9" y2="409.5" stroke="#231f20" stroke-width="1.6"/>
<line x1="1654.7" y1="403.9" x2="1666.3" y2="410" stroke="#231f20" stroke-width="1.6"/>
<line x1="1681.6" y1="410.7" x2="1692.8" y2="405.9" stroke="#231f20" stroke-width="1.6"/>
<line x1="1692.8" y1="405.9" x2="1703" y2="415.1" stroke="#231f20" stroke-width="1.6"/>
<line x1="1704.7" y1="427.9" x2="1696.9" y2="439.8" stroke="#231f20" stroke-width="1.6"/>
<line x1="1696.9" y1="439.8" x2="1674.6" y2="435.4" stroke="#231f20" stroke-width="1.6"/>
<line x1="1674.6" y1="435.4" x2="1674.1" y2="422.5" stroke="#231f20" stroke-width="1.6"/>
<line x1="1694.5" y1="406.3" x2="1697.6" y2="391.4" stroke="#231f20" stroke-width="1.6"/>
<line x1="1691.1" y1="405.5" x2="1694.3" y2="390.7" stroke="#231f20" stroke-width="1.6"/>
<polygon points="1696.9,439.8 1702.5,458.5 1707.9,455.9" fill="#231f20"/>
<line x1="1705.2" y1="457.2" x2="1719.5" y2="456.7" stroke="#231f20" stroke-width="1.6"/>
<text x="1546.3" y="323.5" font-size="17" fill="#231f20" text-anchor="middle">O</text>
<text x="1563.7" y="354.1" font-size="17" fill="#231f20" text-anchor="middle">N</text>
<text x="1600.1" y="380.6" font-size="17" fill="#231f20" text-anchor="middle">N</text>
<text x="1637.3" y="353.7" font-size="17" fill="#231f20" text-anchor="middle">F</text>
<text x="1601.3" y="418.4" font-size="17" fill="#231f20" text-anchor="middle">F</text>
<text x="1673.8" y="420.1" font-size="17" fill="#231f20" text-anchor="middle">N</text>
<text x="1697.7" y="388.8" font-size="17" fill="#231f20" text-anchor="middle">O</text>
<text x="1709.3" y="426.9" font-size="17" fill="#231f20" text-anchor="middle">O</text>
<text x="1721.4" y="462.5" font-size="17" fill="#231f20">OH</text>
<text x="1653.6" y="481.2" font-size="30.4" fill="#231f20" text-anchor="middle">6</text>
<text transform="translate(0.6 21.2) scale(1.08 1)" font-size="35" font-weight="bold" stroke="#231f20" stroke-width="1.6">a</text>
<text transform="translate(850.6 21.2) scale(1.17 1)" font-size="35" font-weight="bold" stroke="#231f20" stroke-width="1.6">c</text>
<text transform="translate(-0.8 687.2) scale(1.1 1)" font-size="38" font-weight="bold" stroke="#231f20" stroke-width="1.6">b</text>
<text transform="translate(849.9 687.2) scale(1.1 1)" font-size="38" font-weight="bold" stroke="#231f20" stroke-width="1.6">d</text>
<text x="94.6" y="373.8" font-size="28.6" textLength="116.8" lengthAdjust="spacingAndGlyphs">Linezolid</text>
<text x="589.6" y="374.9" font-size="28.6" textLength="119.6" lengthAdjust="spacingAndGlyphs">MK-7762</text>
<text x="59.5" y="421" font-size="27.9"><tspan font-style="italic">Mtb</tspan> MIC<tspan font-size="19.81" dy="8.93">95</tspan><tspan dy="-8.93"> = 2.0 µM</tspan></text>
<text x="57.7" y="455.4" font-size="27.9">MPS IC<tspan font-size="19.81" dy="8.93">50</tspan><tspan dy="-8.93"> = 16 µM</tspan></text>
<text x="57.9" y="487.1" font-size="27.9">SI = 16</text>
<text x="571.2" y="420.1" font-size="28.0"><tspan font-style="italic">Mtb</tspan> MIC<tspan font-size="19.88" dy="8.96">95</tspan><tspan dy="-8.96"> = 0.93 µM</tspan></text>
<text x="569.4" y="454.1" font-size="28.0">MPS IC<tspan font-size="19.88" dy="8.96">50</tspan><tspan dy="-8.96"> = 98 µM</tspan></text>
<text x="569.6" y="486.2" font-size="28.0">SI = 120</text>
<text x="947.7" y="228.7" font-size="27.9"><tspan font-style="italic">Mtb</tspan> MIC<tspan font-size="19.81" dy="8.93">95</tspan><tspan dy="-8.93"> = 0.2 µM</tspan></text>
<text x="945.9" y="261.9" font-size="27.9">MPS IC<tspan font-size="19.81" dy="8.93">50</tspan><tspan dy="-8.93"> = 13 µM</tspan></text>
<text x="946.1" y="294.8" font-size="27.9">SI = 65</text>
<text x="1239.4" y="228.5" font-size="28.0"><tspan font-style="italic">Mtb</tspan> MIC<tspan font-size="19.88" dy="8.96">95</tspan><tspan dy="-8.96"> = 0.78 µM</tspan></text>
<text x="1237.6" y="261.9" font-size="28.0">MPS IC<tspan font-size="19.88" dy="8.96">50</tspan><tspan dy="-8.96"> = 51 µM</tspan></text>
<text x="1237.8" y="294.8" font-size="28.0">SI = 66</text>
<text x="1558" y="228.3" font-size="28.0"><tspan font-style="italic">Mtb</tspan> MIC<tspan font-size="19.88" dy="8.96">95</tspan><tspan dy="-8.96"> = 0.98 µM</tspan></text>
<text x="1556.2" y="261.9" font-size="28.0">MPS IC<tspan font-size="19.88" dy="8.96">50</tspan><tspan dy="-8.96"> = 30 µM</tspan></text>
<text x="1556.4" y="294.8" font-size="28.0">SI = 30</text>
<text x="916.9" y="525.4" font-size="28.1"><tspan font-style="italic">Mtb</tspan> MIC<tspan font-size="19.95" dy="8.99">95</tspan><tspan dy="-8.99"> = 0.065 µM</tspan></text>
<text x="915.1" y="559.1" font-size="28.1">MPS IC<tspan font-size="19.95" dy="8.99">50</tspan><tspan dy="-8.99"> = 2.4 µM</tspan></text>
<text x="915.3" y="592.5" font-size="28.1">SI = 38</text>
<text x="1243" y="525.4" font-size="28.2"><tspan font-style="italic">Mtb</tspan> MIC<tspan font-size="20.02" dy="9.02">95</tspan><tspan dy="-9.02"> = 0.34 µM</tspan></text>
<text x="1241.2" y="559.1" font-size="28.2">MPS IC<tspan font-size="20.02" dy="9.02">50</tspan><tspan dy="-9.02"> = 5.9 µM</tspan></text>
<text x="1241.4" y="592.5" font-size="28.2">SI = 17</text>
<text x="1554.5" y="525.4" font-size="28.05"><tspan font-style="italic">Mtb</tspan> MIC<tspan font-size="19.92" dy="8.98">95</tspan><tspan dy="-8.98"> = 3.1 µM</tspan></text>
<text x="1552.7" y="559.1" font-size="28.05">MPS IC<tspan font-size="19.92" dy="8.98">50</tspan><tspan dy="-8.98"> &gt; 100 µM</tspan></text>
<text x="1552.9" y="592.5" font-size="28.05">SI &gt; 32</text>
<rect x="247" y="963" width="236" height="235" fill="#fdfdfd"/>
<ellipse cx="177.1" cy="714" rx="5.6" ry="4.9" fill="#6a81c5" stroke="#4d66bb" stroke-width="0.7"/>
<ellipse cx="297.8" cy="714" rx="5.6" ry="4.9" fill="#6a81c5" stroke="#4d66bb" stroke-width="0.7"/>
<ellipse cx="199.3" cy="802.2" rx="5.6" ry="4.9" fill="#6a81c5" stroke="#4d66bb" stroke-width="0.7"/>
<ellipse cx="337" cy="802.2" rx="5.6" ry="4.9" fill="#6a81c5" stroke="#4d66bb" stroke-width="0.7"/>
<ellipse cx="353.2" cy="802.2" rx="5.6" ry="4.9" fill="#6a81c5" stroke="#4d66bb" stroke-width="0.7"/>
<ellipse cx="361.5" cy="802.2" rx="5.6" ry="4.9" fill="#6a81c5" stroke="#4d66bb" stroke-width="0.7"/>
<ellipse cx="399.5" cy="802.2" rx="5.6" ry="4.9" fill="#6a81c5" stroke="#4d66bb" stroke-width="0.7"/>
<ellipse cx="264.2" cy="846" rx="5.6" ry="4.9" fill="#6a81c5" stroke="#4d66bb" stroke-width="0.7"/>
<ellipse cx="306" cy="846" rx="5.6" ry="4.9" fill="#6a81c5" stroke="#4d66bb" stroke-width="0.7"/>
<ellipse cx="328.9" cy="846" rx="5.6" ry="4.9" fill="#6a81c5" stroke="#4d66bb" stroke-width="0.7"/>
<ellipse cx="341.6" cy="846" rx="5.6" ry="4.9" fill="#6a81c5" stroke="#4d66bb" stroke-width="0.7"/>
<ellipse cx="344.1" cy="846" rx="5.6" ry="4.9" fill="#6a81c5" stroke="#4d66bb" stroke-width="0.7"/>
<ellipse cx="360.1" cy="846" rx="5.6" ry="4.9" fill="#6a81c5" stroke="#4d66bb" stroke-width="0.7"/>
<ellipse cx="371.4" cy="846" rx="5.6" ry="4.9" fill="#6a81c5" stroke="#4d66bb" stroke-width="0.7"/>
<ellipse cx="378.8" cy="846" rx="5.6" ry="4.9" fill="#6a81c5" stroke="#4d66bb" stroke-width="0.7"/>
<ellipse cx="412.8" cy="846" rx="5.6" ry="4.9" fill="#6a81c5" stroke="#4d66bb" stroke-width="0.7"/>
<ellipse cx="424.7" cy="846" rx="5.6" ry="4.9" fill="#6a81c5" stroke="#4d66bb" stroke-width="0.7"/>
<ellipse cx="428" cy="846" rx="5.6" ry="4.9" fill="#6a81c5" stroke="#4d66bb" stroke-width="0.7"/>
<ellipse cx="442.6" cy="846" rx="5.6" ry="4.9" fill="#6a81c5" stroke="#4d66bb" stroke-width="0.7"/>
<ellipse cx="450.3" cy="846" rx="5.6" ry="4.9" fill="#6a81c5" stroke="#4d66bb" stroke-width="0.7"/>
<ellipse cx="459.1" cy="846" rx="5.6" ry="4.9" fill="#6a81c5" stroke="#4d66bb" stroke-width="0.7"/>
<ellipse cx="295.6" cy="864.6" rx="5.6" ry="4.9" fill="#6a81c5" stroke="#4d66bb" stroke-width="0.7"/>
<ellipse cx="455.3" cy="864.6" rx="5.6" ry="4.9" fill="#6a81c5" stroke="#4d66bb" stroke-width="0.7"/>
<ellipse cx="140" cy="890.7" rx="5.6" ry="4.9" fill="#6a81c5" stroke="#4d66bb" stroke-width="0.7"/>
<ellipse cx="217.5" cy="890.7" rx="5.6" ry="4.9" fill="#6a81c5" stroke="#4d66bb" stroke-width="0.7"/>
<ellipse cx="229.9" cy="890.7" rx="5.6" ry="4.9" fill="#6a81c5" stroke="#4d66bb" stroke-width="0.7"/>
<ellipse cx="256.4" cy="890.7" rx="5.6" ry="4.9" fill="#6a81c5" stroke="#4d66bb" stroke-width="0.7"/>
<ellipse cx="259.7" cy="890.7" rx="5.6" ry="4.9" fill="#6a81c5" stroke="#4d66bb" stroke-width="0.7"/>
<ellipse cx="267.1" cy="890.7" rx="5.6" ry="4.9" fill="#6a81c5" stroke="#4d66bb" stroke-width="0.7"/>
<ellipse cx="277.4" cy="890.7" rx="5.6" ry="4.9" fill="#6a81c5" stroke="#4d66bb" stroke-width="0.7"/>
<ellipse cx="295.3" cy="890.7" rx="5.6" ry="4.9" fill="#6a81c5" stroke="#4d66bb" stroke-width="0.7"/>
<ellipse cx="301.9" cy="890.7" rx="5.6" ry="4.9" fill="#6a81c5" stroke="#4d66bb" stroke-width="0.7"/>
<ellipse cx="344.1" cy="890.7" rx="5.6" ry="4.9" fill="#6a81c5" stroke="#4d66bb" stroke-width="0.7"/>
<ellipse cx="347.4" cy="890.7" rx="5.6" ry="4.9" fill="#6a81c5" stroke="#4d66bb" stroke-width="0.7"/>
<ellipse cx="351.5" cy="890.7" rx="5.6" ry="4.9" fill="#6a81c5" stroke="#4d66bb" stroke-width="0.7"/>
<ellipse cx="358.1" cy="890.7" rx="5.6" ry="4.9" fill="#6a81c5" stroke="#4d66bb" stroke-width="0.7"/>
<ellipse cx="368.9" cy="890.7" rx="5.6" ry="4.9" fill="#6a81c5" stroke="#4d66bb" stroke-width="0.7"/>
<ellipse cx="374.7" cy="890.7" rx="5.6" ry="4.9" fill="#6a81c5" stroke="#4d66bb" stroke-width="0.7"/>
<ellipse cx="378.8" cy="890.7" rx="5.6" ry="4.9" fill="#6a81c5" stroke="#4d66bb" stroke-width="0.7"/>
<ellipse cx="394.1" cy="890.7" rx="5.6" ry="4.9" fill="#6a81c5" stroke="#4d66bb" stroke-width="0.7"/>
<ellipse cx="398.2" cy="890.7" rx="5.6" ry="4.9" fill="#6a81c5" stroke="#4d66bb" stroke-width="0.7"/>
<ellipse cx="401.5" cy="890.7" rx="5.6" ry="4.9" fill="#6a81c5" stroke="#4d66bb" stroke-width="0.7"/>
<ellipse cx="405.6" cy="890.7" rx="5.6" ry="4.9" fill="#6a81c5" stroke="#4d66bb" stroke-width="0.7"/>
<ellipse cx="418.1" cy="890.7" rx="5.6" ry="4.9" fill="#6a81c5" stroke="#4d66bb" stroke-width="0.7"/>
<ellipse cx="441.2" cy="890.7" rx="5.6" ry="4.9" fill="#6a81c5" stroke="#4d66bb" stroke-width="0.7"/>
<ellipse cx="452.8" cy="890.7" rx="5.6" ry="4.9" fill="#6a81c5" stroke="#4d66bb" stroke-width="0.7"/>
<ellipse cx="469.4" cy="890.7" rx="5.6" ry="4.9" fill="#6a81c5" stroke="#4d66bb" stroke-width="0.7"/>
<ellipse cx="472.7" cy="890.7" rx="5.6" ry="4.9" fill="#6a81c5" stroke="#4d66bb" stroke-width="0.7"/>
<ellipse cx="482.6" cy="890.7" rx="5.6" ry="4.9" fill="#6a81c5" stroke="#4d66bb" stroke-width="0.7"/>
<ellipse cx="490" cy="890.7" rx="5.6" ry="4.9" fill="#6a81c5" stroke="#4d66bb" stroke-width="0.7"/>
<ellipse cx="500" cy="890.7" rx="5.6" ry="4.9" fill="#6a81c5" stroke="#4d66bb" stroke-width="0.7"/>
<ellipse cx="510.7" cy="890.7" rx="5.6" ry="4.9" fill="#6a81c5" stroke="#4d66bb" stroke-width="0.7"/>
<ellipse cx="504.9" cy="898.5" rx="5.6" ry="4.9" fill="#6a81c5" stroke="#4d66bb" stroke-width="0.7"/>
<ellipse cx="153" cy="909.5" rx="5.6" ry="4.9" fill="#6a81c5" stroke="#4d66bb" stroke-width="0.7"/>
<ellipse cx="188.2" cy="909.5" rx="5.6" ry="4.9" fill="#6a81c5" stroke="#4d66bb" stroke-width="0.7"/>
<ellipse cx="260.8" cy="909.5" rx="5.6" ry="4.9" fill="#6a81c5" stroke="#4d66bb" stroke-width="0.7"/>
<ellipse cx="391.2" cy="909.5" rx="5.6" ry="4.9" fill="#6a81c5" stroke="#4d66bb" stroke-width="0.7"/>
<ellipse cx="396.2" cy="906.5" rx="5.6" ry="4.9" fill="#6a81c5" stroke="#4d66bb" stroke-width="0.7"/>
<ellipse cx="464.4" cy="909.5" rx="5.6" ry="4.9" fill="#6a81c5" stroke="#4d66bb" stroke-width="0.7"/>
<ellipse cx="502.1" cy="909.5" rx="5.6" ry="4.9" fill="#6a81c5" stroke="#4d66bb" stroke-width="0.7"/>
<ellipse cx="375.5" cy="920.5" rx="5.6" ry="4.9" fill="#6a81c5" stroke="#4d66bb" stroke-width="0.7"/>
<ellipse cx="174.1" cy="934.6" rx="5.6" ry="4.9" fill="#6a81c5" stroke="#4d66bb" stroke-width="0.7"/>
<ellipse cx="186.9" cy="937.1" rx="5.6" ry="4.9" fill="#6a81c5" stroke="#4d66bb" stroke-width="0.7"/>
<ellipse cx="214.5" cy="937.1" rx="5.6" ry="4.9" fill="#6a81c5" stroke="#4d66bb" stroke-width="0.7"/>
<ellipse cx="238.2" cy="934.6" rx="5.6" ry="4.9" fill="#6a81c5" stroke="#4d66bb" stroke-width="0.7"/>
<ellipse cx="244" cy="934.6" rx="5.6" ry="4.9" fill="#6a81c5" stroke="#4d66bb" stroke-width="0.7"/>
<ellipse cx="258" cy="934.6" rx="5.6" ry="4.9" fill="#6a81c5" stroke="#4d66bb" stroke-width="0.7"/>
<ellipse cx="263" cy="937.1" rx="5.6" ry="4.9" fill="#6a81c5" stroke="#4d66bb" stroke-width="0.7"/>
<ellipse cx="284.5" cy="934.6" rx="5.6" ry="4.9" fill="#6a81c5" stroke="#4d66bb" stroke-width="0.7"/>
<ellipse cx="285.3" cy="937.1" rx="5.6" ry="4.9" fill="#6a81c5" stroke="#4d66bb" stroke-width="0.7"/>
<ellipse cx="304.4" cy="934.6" rx="5.6" ry="4.9" fill="#6a81c5" stroke="#4d66bb" stroke-width="0.7"/>
<ellipse cx="307.7" cy="934.6" rx="5.6" ry="4.9" fill="#6a81c5" stroke="#4d66bb" stroke-width="0.7"/>
<ellipse cx="325.9" cy="934.6" rx="5.6" ry="4.9" fill="#6a81c5" stroke="#4d66bb" stroke-width="0.7"/>
<ellipse cx="331.7" cy="934.6" rx="5.6" ry="4.9" fill="#6a81c5" stroke="#4d66bb" stroke-width="0.7"/>
<ellipse cx="333" cy="937.1" rx="5.6" ry="4.9" fill="#6a81c5" stroke="#4d66bb" stroke-width="0.7"/>
<ellipse cx="342.4" cy="937.1" rx="5.6" ry="4.9" fill="#6a81c5" stroke="#4d66bb" stroke-width="0.7"/>
<ellipse cx="348.2" cy="934.6" rx="5.6" ry="4.9" fill="#6a81c5" stroke="#4d66bb" stroke-width="0.7"/>
<ellipse cx="352" cy="937.1" rx="5.6" ry="4.9" fill="#6a81c5" stroke="#4d66bb" stroke-width="0.7"/>
<ellipse cx="360.6" cy="934.6" rx="5.6" ry="4.9" fill="#6a81c5" stroke="#4d66bb" stroke-width="0.7"/>
<ellipse cx="362" cy="937.1" rx="5.6" ry="4.9" fill="#6a81c5" stroke="#4d66bb" stroke-width="0.7"/>
<ellipse cx="371.4" cy="934.6" rx="5.6" ry="4.9" fill="#6a81c5" stroke="#4d66bb" stroke-width="0.7"/>
<ellipse cx="374.7" cy="934.6" rx="5.6" ry="4.9" fill="#6a81c5" stroke="#4d66bb" stroke-width="0.7"/>
<ellipse cx="376.4" cy="934.6" rx="5.6" ry="4.9" fill="#6a81c5" stroke="#4d66bb" stroke-width="0.7"/>
<ellipse cx="384.6" cy="934.6" rx="5.6" ry="4.9" fill="#6a81c5" stroke="#4d66bb" stroke-width="0.7"/>
<ellipse cx="392.9" cy="934.6" rx="5.6" ry="4.9" fill="#6a81c5" stroke="#4d66bb" stroke-width="0.7"/>
<ellipse cx="397.9" cy="934.6" rx="5.6" ry="4.9" fill="#6a81c5" stroke="#4d66bb" stroke-width="0.7"/>
<ellipse cx="404.8" cy="934.6" rx="5.6" ry="4.9" fill="#6a81c5" stroke="#4d66bb" stroke-width="0.7"/>
<ellipse cx="418.1" cy="934.6" rx="5.6" ry="4.9" fill="#6a81c5" stroke="#4d66bb" stroke-width="0.7"/>
<ellipse cx="430.5" cy="934.6" rx="5.6" ry="4.9" fill="#6a81c5" stroke="#4d66bb" stroke-width="0.7"/>
<ellipse cx="441.2" cy="934.6" rx="5.6" ry="4.9" fill="#6a81c5" stroke="#4d66bb" stroke-width="0.7"/>
<ellipse cx="451.2" cy="934.6" rx="5.6" ry="4.9" fill="#6a81c5" stroke="#4d66bb" stroke-width="0.7"/>
<ellipse cx="461.1" cy="934.6" rx="5.6" ry="4.9" fill="#6a81c5" stroke="#4d66bb" stroke-width="0.7"/>
<ellipse cx="474.3" cy="934.6" rx="5.6" ry="4.9" fill="#6a81c5" stroke="#4d66bb" stroke-width="0.7"/>
<ellipse cx="487.6" cy="934.6" rx="5.6" ry="4.9" fill="#6a81c5" stroke="#4d66bb" stroke-width="0.7"/>
<ellipse cx="491.7" cy="934.6" rx="5.6" ry="4.9" fill="#6a81c5" stroke="#4d66bb" stroke-width="0.7"/>
<ellipse cx="505.8" cy="934.6" rx="5.6" ry="4.9" fill="#6a81c5" stroke="#4d66bb" stroke-width="0.7"/>
<ellipse cx="503.3" cy="937.1" rx="5.6" ry="4.9" fill="#6a81c5" stroke="#4d66bb" stroke-width="0.7"/>
<ellipse cx="529.8" cy="934.6" rx="5.6" ry="4.9" fill="#6a81c5" stroke="#4d66bb" stroke-width="0.7"/>
<ellipse cx="535.6" cy="934.6" rx="5.6" ry="4.9" fill="#6a81c5" stroke="#4d66bb" stroke-width="0.7"/>
<ellipse cx="546.3" cy="934.6" rx="5.6" ry="4.9" fill="#6a81c5" stroke="#4d66bb" stroke-width="0.7"/>
<ellipse cx="555.4" cy="937.1" rx="5.6" ry="4.9" fill="#6a81c5" stroke="#4d66bb" stroke-width="0.7"/>
<ellipse cx="565.3" cy="934.6" rx="5.6" ry="4.9" fill="#6a81c5" stroke="#4d66bb" stroke-width="0.7"/>
<ellipse cx="418.1" cy="942.9" rx="5.6" ry="4.9" fill="#6a81c5" stroke="#4d66bb" stroke-width="0.7"/>
<ellipse cx="516.5" cy="942.9" rx="5.6" ry="4.9" fill="#6a81c5" stroke="#4d66bb" stroke-width="0.7"/>
<ellipse cx="545.5" cy="942.9" rx="5.6" ry="4.9" fill="#6a81c5" stroke="#4d66bb" stroke-width="0.7"/>
<ellipse cx="552.9" cy="940.4" rx="5.6" ry="4.9" fill="#6a81c5" stroke="#4d66bb" stroke-width="0.7"/>
<ellipse cx="268" cy="953.6" rx="5.6" ry="4.9" fill="#6a81c5" stroke="#4d66bb" stroke-width="0.7"/>
<ellipse cx="270.4" cy="952.8" rx="5.6" ry="4.9" fill="#6a81c5" stroke="#4d66bb" stroke-width="0.7"/>
<ellipse cx="278.7" cy="952.8" rx="5.6" ry="4.9" fill="#6a81c5" stroke="#4d66bb" stroke-width="0.7"/>
<ellipse cx="298.6" cy="952.8" rx="5.6" ry="4.9" fill="#6a81c5" stroke="#4d66bb" stroke-width="0.7"/>
<ellipse cx="310.2" cy="952.8" rx="5.6" ry="4.9" fill="#6a81c5" stroke="#4d66bb" stroke-width="0.7"/>
<ellipse cx="344.1" cy="952.8" rx="5.6" ry="4.9" fill="#6a81c5" stroke="#4d66bb" stroke-width="0.7"/>
<ellipse cx="378" cy="952.8" rx="5.6" ry="4.9" fill="#6a81c5" stroke="#4d66bb" stroke-width="0.7"/>
<ellipse cx="381.3" cy="952.8" rx="5.6" ry="4.9" fill="#6a81c5" stroke="#4d66bb" stroke-width="0.7"/>
<ellipse cx="413.9" cy="952.8" rx="5.6" ry="4.9" fill="#6a81c5" stroke="#4d66bb" stroke-width="0.7"/>
<ellipse cx="451.2" cy="952.8" rx="5.6" ry="4.9" fill="#6a81c5" stroke="#4d66bb" stroke-width="0.7"/>
<ellipse cx="460.3" cy="952.8" rx="5.6" ry="4.9" fill="#6a81c5" stroke="#4d66bb" stroke-width="0.7"/>
<ellipse cx="473.5" cy="954.5" rx="5.6" ry="4.9" fill="#6a81c5" stroke="#4d66bb" stroke-width="0.7"/>
<ellipse cx="476" cy="954.5" rx="5.6" ry="4.9" fill="#6a81c5" stroke="#4d66bb" stroke-width="0.7"/>
<ellipse cx="487.6" cy="952.8" rx="5.6" ry="4.9" fill="#6a81c5" stroke="#4d66bb" stroke-width="0.7"/>
<ellipse cx="492.5" cy="952.8" rx="5.6" ry="4.9" fill="#6a81c5" stroke="#4d66bb" stroke-width="0.7"/>
<ellipse cx="502.5" cy="952.8" rx="5.6" ry="4.9" fill="#6a81c5" stroke="#4d66bb" stroke-width="0.7"/>
<ellipse cx="543" cy="952.8" rx="5.6" ry="4.9" fill="#6a81c5" stroke="#4d66bb" stroke-width="0.7"/>
<ellipse cx="574.4" cy="952.8" rx="5.6" ry="4.9" fill="#6a81c5" stroke="#4d66bb" stroke-width="0.7"/>
<ellipse cx="405.6" cy="961.9" rx="5.6" ry="4.9" fill="#6a81c5" stroke="#4d66bb" stroke-width="0.7"/>
<ellipse cx="546.5" cy="961.9" rx="5.6" ry="4.9" fill="#6a81c5" stroke="#4d66bb" stroke-width="0.7"/>
<ellipse cx="287" cy="966.1" rx="5.6" ry="4.9" fill="#6a81c5" stroke="#4d66bb" stroke-width="0.7"/>
<ellipse cx="388.3" cy="971.8" rx="5.6" ry="4.9" fill="#6a81c5" stroke="#4d66bb" stroke-width="0.7"/>
<ellipse cx="613.8" cy="971.8" rx="5.6" ry="4.9" fill="#6a81c5" stroke="#4d66bb" stroke-width="0.7"/>
<ellipse cx="200.1" cy="978.8" rx="5.6" ry="4.9" fill="#6a81c5" stroke="#4d66bb" stroke-width="0.7"/>
<ellipse cx="207.6" cy="978.8" rx="5.6" ry="4.9" fill="#6a81c5" stroke="#4d66bb" stroke-width="0.7"/>
<ellipse cx="217.8" cy="978.8" rx="5.6" ry="4.9" fill="#6a81c5" stroke="#4d66bb" stroke-width="0.7"/>
<ellipse cx="234.9" cy="978.8" rx="5.6" ry="4.9" fill="#6a81c5" stroke="#4d66bb" stroke-width="0.7"/>
<ellipse cx="239" cy="978.8" rx="5.6" ry="4.9" fill="#6a81c5" stroke="#4d66bb" stroke-width="0.7"/>
<ellipse cx="244" cy="978.8" rx="5.6" ry="4.9" fill="#6a81c5" stroke="#4d66bb" stroke-width="0.7"/>
<ellipse cx="250.6" cy="978.8" rx="5.6" ry="4.9" fill="#6a81c5" stroke="#4d66bb" stroke-width="0.7"/>
<ellipse cx="257.2" cy="978.8" rx="5.6" ry="4.9" fill="#6a81c5" stroke="#4d66bb" stroke-width="0.7"/>
<ellipse cx="265.5" cy="978.8" rx="5.6" ry="4.9" fill="#6a81c5" stroke="#4d66bb" stroke-width="0.7"/>
<ellipse cx="273.8" cy="978.8" rx="5.6" ry="4.9" fill="#6a81c5" stroke="#4d66bb" stroke-width="0.7"/>
<ellipse cx="278.7" cy="978.8" rx="5.6" ry="4.9" fill="#6a81c5" stroke="#4d66bb" stroke-width="0.7"/>
<ellipse cx="285.3" cy="978.8" rx="5.6" ry="4.9" fill="#6a81c5" stroke="#4d66bb" stroke-width="0.7"/>
<ellipse cx="296.1" cy="978.8" rx="5.6" ry="4.9" fill="#6a81c5" stroke="#4d66bb" stroke-width="0.7"/>
<ellipse cx="309.3" cy="978.8" rx="5.6" ry="4.9" fill="#6a81c5" stroke="#4d66bb" stroke-width="0.7"/>
<ellipse cx="318.4" cy="978.8" rx="5.6" ry="4.9" fill="#6a81c5" stroke="#4d66bb" stroke-width="0.7"/>
<ellipse cx="330" cy="978.8" rx="5.6" ry="4.9" fill="#6a81c5" stroke="#4d66bb" stroke-width="0.7"/>
<ellipse cx="335" cy="978.8" rx="5.6" ry="4.9" fill="#6a81c5" stroke="#4d66bb" stroke-width="0.7"/>
<ellipse cx="335" cy="981" rx="5.6" ry="4.9" fill="#6a81c5" stroke="#4d66bb" stroke-width="0.7"/>
<ellipse cx="352.4" cy="978.8" rx="5.6" ry="4.9" fill="#6a81c5" stroke="#4d66bb" stroke-width="0.7"/>
<ellipse cx="357.3" cy="978.8" rx="5.6" ry="4.9" fill="#6a81c5" stroke="#4d66bb" stroke-width="0.7"/>
<ellipse cx="364.8" cy="978.8" rx="5.6" ry="4.9" fill="#6a81c5" stroke="#4d66bb" stroke-width="0.7"/>
<ellipse cx="375.5" cy="978.8" rx="5.6" ry="4.9" fill="#6a81c5" stroke="#4d66bb" stroke-width="0.7"/>
<ellipse cx="391.6" cy="978.8" rx="5.6" ry="4.9" fill="#6a81c5" stroke="#4d66bb" stroke-width="0.7"/>
<ellipse cx="396.2" cy="978.8" rx="5.6" ry="4.9" fill="#6a81c5" stroke="#4d66bb" stroke-width="0.7"/>
<ellipse cx="398.2" cy="978.8" rx="5.6" ry="4.9" fill="#6a81c5" stroke="#4d66bb" stroke-width="0.7"/>
<ellipse cx="424.7" cy="978.8" rx="5.6" ry="4.9" fill="#6a81c5" stroke="#4d66bb" stroke-width="0.7"/>
<ellipse cx="433" cy="978.8" rx="5.6" ry="4.9" fill="#6a81c5" stroke="#4d66bb" stroke-width="0.7"/>
<ellipse cx="437.1" cy="978.8" rx="5.6" ry="4.9" fill="#6a81c5" stroke="#4d66bb" stroke-width="0.7"/>
<ellipse cx="441.2" cy="978.8" rx="5.6" ry="4.9" fill="#6a81c5" stroke="#4d66bb" stroke-width="0.7"/>
<ellipse cx="445.4" cy="978.8" rx="5.6" ry="4.9" fill="#6a81c5" stroke="#4d66bb" stroke-width="0.7"/>
<ellipse cx="462.7" cy="981.8" rx="5.6" ry="4.9" fill="#6a81c5" stroke="#4d66bb" stroke-width="0.7"/>
<ellipse cx="467.7" cy="978.8" rx="5.6" ry="4.9" fill="#6a81c5" stroke="#4d66bb" stroke-width="0.7"/>
<ellipse cx="476" cy="978.8" rx="5.6" ry="4.9" fill="#6a81c5" stroke="#4d66bb" stroke-width="0.7"/>
<ellipse cx="500.8" cy="978.8" rx="5.6" ry="4.9" fill="#6a81c5" stroke="#4d66bb" stroke-width="0.7"/>
<ellipse cx="508.2" cy="978.8" rx="5.6" ry="4.9" fill="#6a81c5" stroke="#4d66bb" stroke-width="0.7"/>
<ellipse cx="515.7" cy="978.8" rx="5.6" ry="4.9" fill="#6a81c5" stroke="#4d66bb" stroke-width="0.7"/>
<ellipse cx="524.8" cy="978.8" rx="5.6" ry="4.9" fill="#6a81c5" stroke="#4d66bb" stroke-width="0.7"/>
<ellipse cx="529.8" cy="978.8" rx="5.6" ry="4.9" fill="#6a81c5" stroke="#4d66bb" stroke-width="0.7"/>
<ellipse cx="545.5" cy="978.8" rx="5.6" ry="4.9" fill="#6a81c5" stroke="#4d66bb" stroke-width="0.7"/>
<ellipse cx="550.4" cy="978.8" rx="5.6" ry="4.9" fill="#6a81c5" stroke="#4d66bb" stroke-width="0.7"/>
<ellipse cx="553.7" cy="978.8" rx="5.6" ry="4.9" fill="#6a81c5" stroke="#4d66bb" stroke-width="0.7"/>
<ellipse cx="563.7" cy="978.8" rx="5.6" ry="4.9" fill="#6a81c5" stroke="#4d66bb" stroke-width="0.7"/>
<ellipse cx="572" cy="978.8" rx="5.6" ry="4.9" fill="#6a81c5" stroke="#4d66bb" stroke-width="0.7"/>
<ellipse cx="583.5" cy="978.8" rx="5.6" ry="4.9" fill="#6a81c5" stroke="#4d66bb" stroke-width="0.7"/>
<ellipse cx="591.8" cy="978.8" rx="5.6" ry="4.9" fill="#6a81c5" stroke="#4d66bb" stroke-width="0.7"/>
<ellipse cx="598.4" cy="978.8" rx="5.6" ry="4.9" fill="#6a81c5" stroke="#4d66bb" stroke-width="0.7"/>
<ellipse cx="604" cy="978.8" rx="5.6" ry="4.9" fill="#6a81c5" stroke="#4d66bb" stroke-width="0.7"/>
<ellipse cx="608.4" cy="978.8" rx="5.6" ry="4.9" fill="#6a81c5" stroke="#4d66bb" stroke-width="0.7"/>
<ellipse cx="611.7" cy="978.8" rx="5.6" ry="4.9" fill="#6a81c5" stroke="#4d66bb" stroke-width="0.7"/>
<ellipse cx="616" cy="978.8" rx="5.6" ry="4.9" fill="#6a81c5" stroke="#4d66bb" stroke-width="0.7"/>
<ellipse cx="618.3" cy="978.8" rx="5.6" ry="4.9" fill="#6a81c5" stroke="#4d66bb" stroke-width="0.7"/>
<ellipse cx="622" cy="978.8" rx="5.6" ry="4.9" fill="#6a81c5" stroke="#4d66bb" stroke-width="0.7"/>
<ellipse cx="423" cy="983.4" rx="5.6" ry="4.9" fill="#6a81c5" stroke="#4d66bb" stroke-width="0.7"/>
<ellipse cx="586" cy="987.6" rx="5.6" ry="4.9" fill="#6a81c5" stroke="#4d66bb" stroke-width="0.7"/>
<ellipse cx="614" cy="985.8" rx="5.6" ry="4.9" fill="#6a81c5" stroke="#4d66bb" stroke-width="0.7"/>
<ellipse cx="458.6" cy="989.2" rx="5.6" ry="4.9" fill="#6a81c5" stroke="#4d66bb" stroke-width="0.7"/>
<ellipse cx="494.2" cy="989.2" rx="5.6" ry="4.9" fill="#6a81c5" stroke="#4d66bb" stroke-width="0.7"/>
<ellipse cx="220.5" cy="997" rx="5.6" ry="4.9" fill="#6a81c5" stroke="#4d66bb" stroke-width="0.7"/>
<ellipse cx="232.7" cy="997" rx="5.6" ry="4.9" fill="#6a81c5" stroke="#4d66bb" stroke-width="0.7"/>
<ellipse cx="242" cy="997" rx="5.6" ry="4.9" fill="#6a81c5" stroke="#4d66bb" stroke-width="0.7"/>
<ellipse cx="259.2" cy="997" rx="5.6" ry="4.9" fill="#6a81c5" stroke="#4d66bb" stroke-width="0.7"/>
<ellipse cx="271.3" cy="993.8" rx="5.6" ry="4.9" fill="#6a81c5" stroke="#4d66bb" stroke-width="0.7"/>
<ellipse cx="276.2" cy="997" rx="5.6" ry="4.9" fill="#6a81c5" stroke="#4d66bb" stroke-width="0.7"/>
<ellipse cx="285.3" cy="997" rx="5.6" ry="4.9" fill="#6a81c5" stroke="#4d66bb" stroke-width="0.7"/>
<ellipse cx="364" cy="997" rx="5.6" ry="4.9" fill="#6a81c5" stroke="#4d66bb" stroke-width="0.7"/>
<ellipse cx="379.7" cy="997" rx="5.6" ry="4.9" fill="#6a81c5" stroke="#4d66bb" stroke-width="0.7"/>
<ellipse cx="381.7" cy="997" rx="5.6" ry="4.9" fill="#6a81c5" stroke="#4d66bb" stroke-width="0.7"/>
<ellipse cx="397.9" cy="997" rx="5.6" ry="4.9" fill="#6a81c5" stroke="#4d66bb" stroke-width="0.7"/>
<ellipse cx="403.2" cy="997" rx="5.6" ry="4.9" fill="#6a81c5" stroke="#4d66bb" stroke-width="0.7"/>
<ellipse cx="431" cy="997" rx="5.6" ry="4.9" fill="#6a81c5" stroke="#4d66bb" stroke-width="0.7"/>
<ellipse cx="459.4" cy="997" rx="5.6" ry="4.9" fill="#6a81c5" stroke="#4d66bb" stroke-width="0.7"/>
<ellipse cx="477.6" cy="997" rx="5.6" ry="4.9" fill="#6a81c5" stroke="#4d66bb" stroke-width="0.7"/>
<ellipse cx="501.6" cy="997" rx="5.6" ry="4.9" fill="#6a81c5" stroke="#4d66bb" stroke-width="0.7"/>
<ellipse cx="514" cy="997" rx="5.6" ry="4.9" fill="#6a81c5" stroke="#4d66bb" stroke-width="0.7"/>
<ellipse cx="548" cy="997" rx="5.6" ry="4.9" fill="#6a81c5" stroke="#4d66bb" stroke-width="0.7"/>
<ellipse cx="569.5" cy="997" rx="5.6" ry="4.9" fill="#6a81c5" stroke="#4d66bb" stroke-width="0.7"/>
<ellipse cx="269.6" cy="1003.3" rx="5.6" ry="4.9" fill="#6a81c5" stroke="#4d66bb" stroke-width="0.7"/>
<ellipse cx="380" cy="1003.3" rx="5.6" ry="4.9" fill="#6a81c5" stroke="#4d66bb" stroke-width="0.7"/>
<ellipse cx="507.4" cy="1004.9" rx="5.6" ry="4.9" fill="#6a81c5" stroke="#4d66bb" stroke-width="0.7"/>
<ellipse cx="550.4" cy="1003.3" rx="5.6" ry="4.9" fill="#6a81c5" stroke="#4d66bb" stroke-width="0.7"/>
<ellipse cx="376.4" cy="1005.3" rx="5.6" ry="4.9" fill="#6a81c5" stroke="#4d66bb" stroke-width="0.7"/>
<ellipse cx="338.3" cy="1009" rx="5.6" ry="4.9" fill="#6a81c5" stroke="#4d66bb" stroke-width="0.7"/>
<ellipse cx="335" cy="1013.2" rx="5.6" ry="4.9" fill="#6a81c5" stroke="#4d66bb" stroke-width="0.7"/>
<ellipse cx="375.5" cy="1013.2" rx="5.6" ry="4.9" fill="#6a81c5" stroke="#4d66bb" stroke-width="0.7"/>
<ellipse cx="156.3" cy="1023.1" rx="5.6" ry="4.9" fill="#6a81c5" stroke="#4d66bb" stroke-width="0.7"/>
<ellipse cx="174.1" cy="1023.1" rx="5.6" ry="4.9" fill="#6a81c5" stroke="#4d66bb" stroke-width="0.7"/>
<ellipse cx="184.4" cy="1023.1" rx="5.6" ry="4.9" fill="#6a81c5" stroke="#4d66bb" stroke-width="0.7"/>
<ellipse cx="216.7" cy="1023.1" rx="5.6" ry="4.9" fill="#6a81c5" stroke="#4d66bb" stroke-width="0.7"/>
<ellipse cx="235.7" cy="1023.1" rx="5.6" ry="4.9" fill="#6a81c5" stroke="#4d66bb" stroke-width="0.7"/>
<ellipse cx="243.1" cy="1023.1" rx="5.6" ry="4.9" fill="#6a81c5" stroke="#4d66bb" stroke-width="0.7"/>
<ellipse cx="255.6" cy="1023.1" rx="5.6" ry="4.9" fill="#6a81c5" stroke="#4d66bb" stroke-width="0.7"/>
<ellipse cx="258.9" cy="1023.1" rx="5.6" ry="4.9" fill="#6a81c5" stroke="#4d66bb" stroke-width="0.7"/>
<ellipse cx="270.4" cy="1023.1" rx="5.6" ry="4.9" fill="#6a81c5" stroke="#4d66bb" stroke-width="0.7"/>
<ellipse cx="282.9" cy="1023.1" rx="5.6" ry="4.9" fill="#6a81c5" stroke="#4d66bb" stroke-width="0.7"/>
<ellipse cx="299.4" cy="1023.1" rx="5.6" ry="4.9" fill="#6a81c5" stroke="#4d66bb" stroke-width="0.7"/>
<ellipse cx="306.9" cy="1023.1" rx="5.6" ry="4.9" fill="#6a81c5" stroke="#4d66bb" stroke-width="0.7"/>
<ellipse cx="316.8" cy="1023.1" rx="5.6" ry="4.9" fill="#6a81c5" stroke="#4d66bb" stroke-width="0.7"/>
<ellipse cx="320.1" cy="1023.1" rx="5.6" ry="4.9" fill="#6a81c5" stroke="#4d66bb" stroke-width="0.7"/>
<ellipse cx="330.8" cy="1023.1" rx="5.6" ry="4.9" fill="#6a81c5" stroke="#4d66bb" stroke-width="0.7"/>
<ellipse cx="338.3" cy="1023.1" rx="5.6" ry="4.9" fill="#6a81c5" stroke="#4d66bb" stroke-width="0.7"/>
<ellipse cx="349.9" cy="1023.1" rx="5.6" ry="4.9" fill="#6a81c5" stroke="#4d66bb" stroke-width="0.7"/>
<ellipse cx="358.1" cy="1023.1" rx="5.6" ry="4.9" fill="#6a81c5" stroke="#4d66bb" stroke-width="0.7"/>
<ellipse cx="366.4" cy="1023.1" rx="5.6" ry="4.9" fill="#6a81c5" stroke="#4d66bb" stroke-width="0.7"/>
<ellipse cx="374.7" cy="1023.1" rx="5.6" ry="4.9" fill="#6a81c5" stroke="#4d66bb" stroke-width="0.7"/>
<ellipse cx="384.6" cy="1023.1" rx="5.6" ry="4.9" fill="#6a81c5" stroke="#4d66bb" stroke-width="0.7"/>
<ellipse cx="394.9" cy="1023.1" rx="5.6" ry="4.9" fill="#6a81c5" stroke="#4d66bb" stroke-width="0.7"/>
<ellipse cx="400.7" cy="1023.1" rx="5.6" ry="4.9" fill="#6a81c5" stroke="#4d66bb" stroke-width="0.7"/>
<ellipse cx="413.1" cy="1023.1" rx="5.6" ry="4.9" fill="#6a81c5" stroke="#4d66bb" stroke-width="0.7"/>
<ellipse cx="420.5" cy="1023.1" rx="5.6" ry="4.9" fill="#6a81c5" stroke="#4d66bb" stroke-width="0.7"/>
<ellipse cx="431.3" cy="1023.1" rx="5.6" ry="4.9" fill="#6a81c5" stroke="#4d66bb" stroke-width="0.7"/>
<ellipse cx="440.4" cy="1023.1" rx="5.6" ry="4.9" fill="#6a81c5" stroke="#4d66bb" stroke-width="0.7"/>
<ellipse cx="447.8" cy="1023.1" rx="5.6" ry="4.9" fill="#6a81c5" stroke="#4d66bb" stroke-width="0.7"/>
<ellipse cx="459.4" cy="1023.1" rx="5.6" ry="4.9" fill="#6a81c5" stroke="#4d66bb" stroke-width="0.7"/>
<ellipse cx="464.4" cy="1023.1" rx="5.6" ry="4.9" fill="#6a81c5" stroke="#4d66bb" stroke-width="0.7"/>
<ellipse cx="490" cy="1023.1" rx="5.6" ry="4.9" fill="#6a81c5" stroke="#4d66bb" stroke-width="0.7"/>
<ellipse cx="500.8" cy="1023.1" rx="5.6" ry="4.9" fill="#6a81c5" stroke="#4d66bb" stroke-width="0.7"/>
<ellipse cx="514" cy="1023.1" rx="5.6" ry="4.9" fill="#6a81c5" stroke="#4d66bb" stroke-width="0.7"/>
<ellipse cx="520.7" cy="1023.1" rx="5.6" ry="4.9" fill="#6a81c5" stroke="#4d66bb" stroke-width="0.7"/>
<ellipse cx="549.6" cy="1023.1" rx="5.6" ry="4.9" fill="#6a81c5" stroke="#4d66bb" stroke-width="0.7"/>
<ellipse cx="561.2" cy="1023.1" rx="5.6" ry="4.9" fill="#6a81c5" stroke="#4d66bb" stroke-width="0.7"/>
<ellipse cx="581.9" cy="1023.1" rx="5.6" ry="4.9" fill="#6a81c5" stroke="#4d66bb" stroke-width="0.7"/>
<ellipse cx="593.5" cy="1023.1" rx="5.6" ry="4.9" fill="#6a81c5" stroke="#4d66bb" stroke-width="0.7"/>
<ellipse cx="313.5" cy="1028.1" rx="5.6" ry="4.9" fill="#6a81c5" stroke="#4d66bb" stroke-width="0.7"/>
<ellipse cx="385" cy="1032.5" rx="5.6" ry="4.9" fill="#6a81c5" stroke="#4d66bb" stroke-width="0.7"/>
<ellipse cx="520.7" cy="1032.5" rx="5.6" ry="4.9" fill="#6a81c5" stroke="#4d66bb" stroke-width="0.7"/>
<ellipse cx="384.6" cy="1033.9" rx="5.6" ry="4.9" fill="#6a81c5" stroke="#4d66bb" stroke-width="0.7"/>
<ellipse cx="420.5" cy="1034.7" rx="5.6" ry="4.9" fill="#6a81c5" stroke="#4d66bb" stroke-width="0.7"/>
<ellipse cx="174.1" cy="1040.5" rx="5.6" ry="4.9" fill="#6a81c5" stroke="#4d66bb" stroke-width="0.7"/>
<ellipse cx="259.2" cy="1040.5" rx="5.6" ry="4.9" fill="#6a81c5" stroke="#4d66bb" stroke-width="0.7"/>
<ellipse cx="270.4" cy="1040.5" rx="5.6" ry="4.9" fill="#6a81c5" stroke="#4d66bb" stroke-width="0.7"/>
<ellipse cx="272.1" cy="1040.5" rx="5.6" ry="4.9" fill="#6a81c5" stroke="#4d66bb" stroke-width="0.7"/>
<ellipse cx="288.3" cy="1040.5" rx="5.6" ry="4.9" fill="#6a81c5" stroke="#4d66bb" stroke-width="0.7"/>
<ellipse cx="305.5" cy="1040.5" rx="5.6" ry="4.9" fill="#6a81c5" stroke="#4d66bb" stroke-width="0.7"/>
<ellipse cx="318.4" cy="1040.5" rx="5.6" ry="4.9" fill="#6a81c5" stroke="#4d66bb" stroke-width="0.7"/>
<ellipse cx="323.4" cy="1040.5" rx="5.6" ry="4.9" fill="#6a81c5" stroke="#4d66bb" stroke-width="0.7"/>
<ellipse cx="334.2" cy="1040.5" rx="5.6" ry="4.9" fill="#6a81c5" stroke="#4d66bb" stroke-width="0.7"/>
<ellipse cx="424.7" cy="1041.3" rx="5.6" ry="4.9" fill="#6a81c5" stroke="#4d66bb" stroke-width="0.7"/>
<ellipse cx="598" cy="1041.8" rx="5.6" ry="4.9" fill="#6a81c5" stroke="#4d66bb" stroke-width="0.7"/>
<ellipse cx="645.6" cy="1041.8" rx="5.6" ry="4.9" fill="#6a81c5" stroke="#4d66bb" stroke-width="0.7"/>
<ellipse cx="559.5" cy="1049.6" rx="5.6" ry="4.9" fill="#6a81c5" stroke="#4d66bb" stroke-width="0.7"/>
<ellipse cx="233.7" cy="1053.8" rx="5.6" ry="4.9" fill="#6a81c5" stroke="#4d66bb" stroke-width="0.7"/>
<ellipse cx="251.9" cy="1053.8" rx="5.6" ry="4.9" fill="#6a81c5" stroke="#4d66bb" stroke-width="0.7"/>
<ellipse cx="324.2" cy="1053.8" rx="5.6" ry="4.9" fill="#6a81c5" stroke="#4d66bb" stroke-width="0.7"/>
<ellipse cx="351.2" cy="1053.8" rx="5.6" ry="4.9" fill="#6a81c5" stroke="#4d66bb" stroke-width="0.7"/>
<ellipse cx="518.2" cy="1053.8" rx="5.6" ry="4.9" fill="#6a81c5" stroke="#4d66bb" stroke-width="0.7"/>
<ellipse cx="292" cy="1058.7" rx="5.6" ry="4.9" fill="#6a81c5" stroke="#4d66bb" stroke-width="0.7"/>
<ellipse cx="234.9" cy="1068.6" rx="5.6" ry="4.9" fill="#6a81c5" stroke="#4d66bb" stroke-width="0.7"/>
<ellipse cx="256.4" cy="1070.7" rx="5.6" ry="4.9" fill="#6a81c5" stroke="#4d66bb" stroke-width="0.7"/>
<ellipse cx="269.6" cy="1068.6" rx="5.6" ry="4.9" fill="#6a81c5" stroke="#4d66bb" stroke-width="0.7"/>
<ellipse cx="280.4" cy="1068.6" rx="5.6" ry="4.9" fill="#6a81c5" stroke="#4d66bb" stroke-width="0.7"/>
<ellipse cx="290.3" cy="1068.6" rx="5.6" ry="4.9" fill="#6a81c5" stroke="#4d66bb" stroke-width="0.7"/>
<ellipse cx="302.7" cy="1068.6" rx="5.6" ry="4.9" fill="#6a81c5" stroke="#4d66bb" stroke-width="0.7"/>
<ellipse cx="311" cy="1068.6" rx="5.6" ry="4.9" fill="#6a81c5" stroke="#4d66bb" stroke-width="0.7"/>
<ellipse cx="320.1" cy="1068.6" rx="5.6" ry="4.9" fill="#6a81c5" stroke="#4d66bb" stroke-width="0.7"/>
<ellipse cx="328.4" cy="1071.6" rx="5.6" ry="4.9" fill="#6a81c5" stroke="#4d66bb" stroke-width="0.7"/>
<ellipse cx="335" cy="1068.6" rx="5.6" ry="4.9" fill="#6a81c5" stroke="#4d66bb" stroke-width="0.7"/>
<ellipse cx="338.3" cy="1068.6" rx="5.6" ry="4.9" fill="#6a81c5" stroke="#4d66bb" stroke-width="0.7"/>
<ellipse cx="348.2" cy="1068.6" rx="5.6" ry="4.9" fill="#6a81c5" stroke="#4d66bb" stroke-width="0.7"/>
<ellipse cx="354.8" cy="1068.6" rx="5.6" ry="4.9" fill="#6a81c5" stroke="#4d66bb" stroke-width="0.7"/>
<ellipse cx="363.1" cy="1068.6" rx="5.6" ry="4.9" fill="#6a81c5" stroke="#4d66bb" stroke-width="0.7"/>
<ellipse cx="373.9" cy="1068.6" rx="5.6" ry="4.9" fill="#6a81c5" stroke="#4d66bb" stroke-width="0.7"/>
<ellipse cx="383.3" cy="1068.6" rx="5.6" ry="4.9" fill="#6a81c5" stroke="#4d66bb" stroke-width="0.7"/>
<ellipse cx="384.6" cy="1068.6" rx="5.6" ry="4.9" fill="#6a81c5" stroke="#4d66bb" stroke-width="0.7"/>
<ellipse cx="387.6" cy="1068.6" rx="5.6" ry="4.9" fill="#6a81c5" stroke="#4d66bb" stroke-width="0.7"/>
<ellipse cx="397.9" cy="1068.6" rx="5.6" ry="4.9" fill="#6a81c5" stroke="#4d66bb" stroke-width="0.7"/>
<ellipse cx="401.5" cy="1068.6" rx="5.6" ry="4.9" fill="#6a81c5" stroke="#4d66bb" stroke-width="0.7"/>
<ellipse cx="414.8" cy="1068.6" rx="5.6" ry="4.9" fill="#6a81c5" stroke="#4d66bb" stroke-width="0.7"/>
<ellipse cx="433.8" cy="1068.6" rx="5.6" ry="4.9" fill="#6a81c5" stroke="#4d66bb" stroke-width="0.7"/>
<ellipse cx="437.9" cy="1068.6" rx="5.6" ry="4.9" fill="#6a81c5" stroke="#4d66bb" stroke-width="0.7"/>
<ellipse cx="449.5" cy="1068.6" rx="5.6" ry="4.9" fill="#6a81c5" stroke="#4d66bb" stroke-width="0.7"/>
<ellipse cx="459.4" cy="1068.6" rx="5.6" ry="4.9" fill="#6a81c5" stroke="#4d66bb" stroke-width="0.7"/>
<ellipse cx="469.4" cy="1068.6" rx="5.6" ry="4.9" fill="#6a81c5" stroke="#4d66bb" stroke-width="0.7"/>
<ellipse cx="490.9" cy="1068.6" rx="5.6" ry="4.9" fill="#6a81c5" stroke="#4d66bb" stroke-width="0.7"/>
<ellipse cx="494.2" cy="1068.6" rx="5.6" ry="4.9" fill="#6a81c5" stroke="#4d66bb" stroke-width="0.7"/>
<ellipse cx="506.6" cy="1068.6" rx="5.6" ry="4.9" fill="#6a81c5" stroke="#4d66bb" stroke-width="0.7"/>
<ellipse cx="517.4" cy="1068.6" rx="5.6" ry="4.9" fill="#6a81c5" stroke="#4d66bb" stroke-width="0.7"/>
<ellipse cx="519.8" cy="1068.6" rx="5.6" ry="4.9" fill="#6a81c5" stroke="#4d66bb" stroke-width="0.7"/>
<ellipse cx="542.2" cy="1068.6" rx="5.6" ry="4.9" fill="#6a81c5" stroke="#4d66bb" stroke-width="0.7"/>
<ellipse cx="556.2" cy="1067.4" rx="5.6" ry="4.9" fill="#6a81c5" stroke="#4d66bb" stroke-width="0.7"/>
<ellipse cx="572.8" cy="1068.6" rx="5.6" ry="4.9" fill="#6a81c5" stroke="#4d66bb" stroke-width="0.7"/>
<ellipse cx="618.2" cy="1068.6" rx="5.6" ry="4.9" fill="#6a81c5" stroke="#4d66bb" stroke-width="0.7"/>
<ellipse cx="689.9" cy="1068.6" rx="5.6" ry="4.9" fill="#6a81c5" stroke="#4d66bb" stroke-width="0.7"/>
<ellipse cx="291.1" cy="1061.7" rx="5.6" ry="4.9" fill="#6a81c5" stroke="#4d66bb" stroke-width="0.7"/>
<ellipse cx="299.4" cy="1074.9" rx="5.6" ry="4.9" fill="#6a81c5" stroke="#4d66bb" stroke-width="0.7"/>
<ellipse cx="331.7" cy="1077.4" rx="5.6" ry="4.9" fill="#6a81c5" stroke="#4d66bb" stroke-width="0.7"/>
<ellipse cx="306.9" cy="1079" rx="5.6" ry="4.9" fill="#6a81c5" stroke="#4d66bb" stroke-width="0.7"/>
<ellipse cx="413.9" cy="1079.9" rx="5.6" ry="4.9" fill="#6a81c5" stroke="#4d66bb" stroke-width="0.7"/>
<ellipse cx="444.5" cy="1079.9" rx="5.6" ry="4.9" fill="#6a81c5" stroke="#4d66bb" stroke-width="0.7"/>
<ellipse cx="455.3" cy="1084.8" rx="5.6" ry="4.9" fill="#6a81c5" stroke="#4d66bb" stroke-width="0.7"/>
<ellipse cx="225.8" cy="1088.1" rx="5.6" ry="4.9" fill="#6a81c5" stroke="#4d66bb" stroke-width="0.7"/>
<ellipse cx="237.4" cy="1088.1" rx="5.6" ry="4.9" fill="#6a81c5" stroke="#4d66bb" stroke-width="0.7"/>
<ellipse cx="240.7" cy="1088.1" rx="5.6" ry="4.9" fill="#6a81c5" stroke="#4d66bb" stroke-width="0.7"/>
<ellipse cx="272.9" cy="1088.1" rx="5.6" ry="4.9" fill="#6a81c5" stroke="#4d66bb" stroke-width="0.7"/>
<ellipse cx="279.5" cy="1088.1" rx="5.6" ry="4.9" fill="#6a81c5" stroke="#4d66bb" stroke-width="0.7"/>
<ellipse cx="306.9" cy="1088.1" rx="5.6" ry="4.9" fill="#6a81c5" stroke="#4d66bb" stroke-width="0.7"/>
<ellipse cx="310.2" cy="1088.1" rx="5.6" ry="4.9" fill="#6a81c5" stroke="#4d66bb" stroke-width="0.7"/>
<ellipse cx="316" cy="1088.1" rx="5.6" ry="4.9" fill="#6a81c5" stroke="#4d66bb" stroke-width="0.7"/>
<ellipse cx="332.5" cy="1088.1" rx="5.6" ry="4.9" fill="#6a81c5" stroke="#4d66bb" stroke-width="0.7"/>
<ellipse cx="337.5" cy="1092.3" rx="5.6" ry="4.9" fill="#6a81c5" stroke="#4d66bb" stroke-width="0.7"/>
<ellipse cx="354.8" cy="1088.1" rx="5.6" ry="4.9" fill="#6a81c5" stroke="#4d66bb" stroke-width="0.7"/>
<ellipse cx="357.3" cy="1088.1" rx="5.6" ry="4.9" fill="#6a81c5" stroke="#4d66bb" stroke-width="0.7"/>
<ellipse cx="371.4" cy="1088.1" rx="5.6" ry="4.9" fill="#6a81c5" stroke="#4d66bb" stroke-width="0.7"/>
<ellipse cx="374.7" cy="1088.1" rx="5.6" ry="4.9" fill="#6a81c5" stroke="#4d66bb" stroke-width="0.7"/>
<ellipse cx="383" cy="1088.1" rx="5.6" ry="4.9" fill="#6a81c5" stroke="#4d66bb" stroke-width="0.7"/>
<ellipse cx="386.3" cy="1088.1" rx="5.6" ry="4.9" fill="#6a81c5" stroke="#4d66bb" stroke-width="0.7"/>
<ellipse cx="392.1" cy="1088.1" rx="5.6" ry="4.9" fill="#6a81c5" stroke="#4d66bb" stroke-width="0.7"/>
<ellipse cx="385" cy="1088.1" rx="5.6" ry="4.9" fill="#6a81c5" stroke="#4d66bb" stroke-width="0.7"/>
<ellipse cx="391.6" cy="1088.1" rx="5.6" ry="4.9" fill="#6a81c5" stroke="#4d66bb" stroke-width="0.7"/>
<ellipse cx="410.6" cy="1088.1" rx="5.6" ry="4.9" fill="#6a81c5" stroke="#4d66bb" stroke-width="0.7"/>
<ellipse cx="446.2" cy="1088.1" rx="5.6" ry="4.9" fill="#6a81c5" stroke="#4d66bb" stroke-width="0.7"/>
<ellipse cx="485.1" cy="1088.1" rx="5.6" ry="4.9" fill="#6a81c5" stroke="#4d66bb" stroke-width="0.7"/>
<ellipse cx="550.4" cy="1088.1" rx="5.6" ry="4.9" fill="#6a81c5" stroke="#4d66bb" stroke-width="0.7"/>
<ellipse cx="577.8" cy="1088.1" rx="5.6" ry="4.9" fill="#6a81c5" stroke="#4d66bb" stroke-width="0.7"/>
<ellipse cx="707.2" cy="1086" rx="5.6" ry="4.9" fill="#6a81c5" stroke="#4d66bb" stroke-width="0.7"/>
<ellipse cx="706.2" cy="1097.8" rx="5.6" ry="4.9" fill="#6a81c5" stroke="#4d66bb" stroke-width="0.7"/>
<ellipse cx="240.3" cy="1100.5" rx="5.6" ry="4.9" fill="#6a81c5" stroke="#4d66bb" stroke-width="0.7"/>
<ellipse cx="344.9" cy="1099.4" rx="5.6" ry="4.9" fill="#6a81c5" stroke="#4d66bb" stroke-width="0.7"/>
<ellipse cx="358.1" cy="1100.5" rx="5.6" ry="4.9" fill="#6a81c5" stroke="#4d66bb" stroke-width="0.7"/>
<ellipse cx="399.5" cy="1100.5" rx="5.6" ry="4.9" fill="#6a81c5" stroke="#4d66bb" stroke-width="0.7"/>
<ellipse cx="400.7" cy="1100.5" rx="5.6" ry="4.9" fill="#6a81c5" stroke="#4d66bb" stroke-width="0.7"/>
<ellipse cx="280.4" cy="1116.3" rx="5.6" ry="4.9" fill="#6a81c5" stroke="#4d66bb" stroke-width="0.7"/>
<ellipse cx="288.6" cy="1116.3" rx="5.6" ry="4.9" fill="#6a81c5" stroke="#4d66bb" stroke-width="0.7"/>
<ellipse cx="292.8" cy="1116.3" rx="5.6" ry="4.9" fill="#6a81c5" stroke="#4d66bb" stroke-width="0.7"/>
<ellipse cx="296.9" cy="1116.3" rx="5.6" ry="4.9" fill="#6a81c5" stroke="#4d66bb" stroke-width="0.7"/>
<ellipse cx="326.7" cy="1116.3" rx="5.6" ry="4.9" fill="#6a81c5" stroke="#4d66bb" stroke-width="0.7"/>
<ellipse cx="331.7" cy="1116.3" rx="5.6" ry="4.9" fill="#6a81c5" stroke="#4d66bb" stroke-width="0.7"/>
<ellipse cx="340" cy="1116.3" rx="5.6" ry="4.9" fill="#6a81c5" stroke="#4d66bb" stroke-width="0.7"/>
<ellipse cx="343.3" cy="1116.3" rx="5.6" ry="4.9" fill="#6a81c5" stroke="#4d66bb" stroke-width="0.7"/>
<ellipse cx="358.1" cy="1116.3" rx="5.6" ry="4.9" fill="#6a81c5" stroke="#4d66bb" stroke-width="0.7"/>
<ellipse cx="363.1" cy="1116.3" rx="5.6" ry="4.9" fill="#6a81c5" stroke="#4d66bb" stroke-width="0.7"/>
<ellipse cx="373.1" cy="1118.8" rx="5.6" ry="4.9" fill="#6a81c5" stroke="#4d66bb" stroke-width="0.7"/>
<ellipse cx="381.3" cy="1116.3" rx="5.6" ry="4.9" fill="#6a81c5" stroke="#4d66bb" stroke-width="0.7"/>
<ellipse cx="387.9" cy="1116.3" rx="5.6" ry="4.9" fill="#6a81c5" stroke="#4d66bb" stroke-width="0.7"/>
<ellipse cx="383.3" cy="1116.3" rx="5.6" ry="4.9" fill="#6a81c5" stroke="#4d66bb" stroke-width="0.7"/>
<ellipse cx="388.3" cy="1116.3" rx="5.6" ry="4.9" fill="#6a81c5" stroke="#4d66bb" stroke-width="0.7"/>
<ellipse cx="423.9" cy="1116.3" rx="5.6" ry="4.9" fill="#6a81c5" stroke="#4d66bb" stroke-width="0.7"/>
<ellipse cx="437.1" cy="1116.3" rx="5.6" ry="4.9" fill="#6a81c5" stroke="#4d66bb" stroke-width="0.7"/>
<ellipse cx="444.5" cy="1116.3" rx="5.6" ry="4.9" fill="#6a81c5" stroke="#4d66bb" stroke-width="0.7"/>
<ellipse cx="449.5" cy="1116.3" rx="5.6" ry="4.9" fill="#6a81c5" stroke="#4d66bb" stroke-width="0.7"/>
<ellipse cx="460.3" cy="1116.3" rx="5.6" ry="4.9" fill="#6a81c5" stroke="#4d66bb" stroke-width="0.7"/>
<ellipse cx="490" cy="1116.3" rx="5.6" ry="4.9" fill="#6a81c5" stroke="#4d66bb" stroke-width="0.7"/>
<ellipse cx="495.8" cy="1116.3" rx="5.6" ry="4.9" fill="#6a81c5" stroke="#4d66bb" stroke-width="0.7"/>
<ellipse cx="500.8" cy="1116.3" rx="5.6" ry="4.9" fill="#6a81c5" stroke="#4d66bb" stroke-width="0.7"/>
<ellipse cx="537.2" cy="1116.3" rx="5.6" ry="4.9" fill="#6a81c5" stroke="#4d66bb" stroke-width="0.7"/>
<ellipse cx="759.7" cy="1116.3" rx="5.6" ry="4.9" fill="#6a81c5" stroke="#4d66bb" stroke-width="0.7"/>
<ellipse cx="386.3" cy="1126.2" rx="5.6" ry="4.9" fill="#6a81c5" stroke="#4d66bb" stroke-width="0.7"/>
<ellipse cx="356.5" cy="1137" rx="5.6" ry="4.9" fill="#6a81c5" stroke="#4d66bb" stroke-width="0.7"/>
<ellipse cx="379.7" cy="1137" rx="5.6" ry="4.9" fill="#6a81c5" stroke="#4d66bb" stroke-width="0.7"/>
<ellipse cx="475.2" cy="1137" rx="5.6" ry="4.9" fill="#6a81c5" stroke="#4d66bb" stroke-width="0.7"/>
<ellipse cx="519.8" cy="1137" rx="5.6" ry="4.9" fill="#6a81c5" stroke="#4d66bb" stroke-width="0.7"/>
<ellipse cx="330.8" cy="1167.6" rx="5.6" ry="4.9" fill="#6a81c5" stroke="#4d66bb" stroke-width="0.7"/>
<ellipse cx="360.6" cy="1167.6" rx="5.6" ry="4.9" fill="#6a81c5" stroke="#4d66bb" stroke-width="0.7"/>
<ellipse cx="398.2" cy="1167.6" rx="5.6" ry="4.9" fill="#6a81c5" stroke="#4d66bb" stroke-width="0.7"/>
<ellipse cx="409" cy="1167.6" rx="5.6" ry="4.9" fill="#6a81c5" stroke="#4d66bb" stroke-width="0.7"/>
<ellipse cx="455.3" cy="1167.6" rx="5.6" ry="4.9" fill="#6a81c5" stroke="#4d66bb" stroke-width="0.7"/>
<ellipse cx="479.3" cy="1167.6" rx="5.6" ry="4.9" fill="#6a81c5" stroke="#4d66bb" stroke-width="0.7"/>
<ellipse cx="648.1" cy="1176.6" rx="5.6" ry="4.9" fill="#6a81c5" stroke="#4d66bb" stroke-width="0.7"/>
<ellipse cx="138.9" cy="714" rx="5.6" ry="4.9" fill="#8bcf9f" stroke="#5cb97a" stroke-width="0.7"/>
<ellipse cx="193.5" cy="714" rx="5.6" ry="4.9" fill="#8bcf9f" stroke="#5cb97a" stroke-width="0.7"/>
<ellipse cx="301.9" cy="714" rx="5.6" ry="4.9" fill="#8bcf9f" stroke="#5cb97a" stroke-width="0.7"/>
<ellipse cx="193.5" cy="757.8" rx="5.6" ry="4.9" fill="#8bcf9f" stroke="#5cb97a" stroke-width="0.7"/>
<ellipse cx="356.2" cy="757.8" rx="5.6" ry="4.9" fill="#8bcf9f" stroke="#5cb97a" stroke-width="0.7"/>
<ellipse cx="247" cy="802.2" rx="5.6" ry="4.9" fill="#8bcf9f" stroke="#5cb97a" stroke-width="0.7"/>
<ellipse cx="356.2" cy="802.2" rx="5.6" ry="4.9" fill="#8bcf9f" stroke="#5cb97a" stroke-width="0.7"/>
<ellipse cx="411.1" cy="802.2" rx="5.6" ry="4.9" fill="#8bcf9f" stroke="#5cb97a" stroke-width="0.7"/>
<ellipse cx="433" cy="820.7" rx="5.6" ry="4.9" fill="#8bcf9f" stroke="#5cb97a" stroke-width="0.7"/>
<ellipse cx="301.1" cy="846" rx="5.6" ry="4.9" fill="#8bcf9f" stroke="#5cb97a" stroke-width="0.7"/>
<ellipse cx="464.7" cy="846" rx="5.6" ry="4.9" fill="#8bcf9f" stroke="#5cb97a" stroke-width="0.7"/>
<ellipse cx="433" cy="864.6" rx="5.6" ry="4.9" fill="#8bcf9f" stroke="#5cb97a" stroke-width="0.7"/>
<ellipse cx="488.4" cy="864.6" rx="5.6" ry="4.9" fill="#8bcf9f" stroke="#5cb97a" stroke-width="0.7"/>
<ellipse cx="502.1" cy="876.2" rx="5.6" ry="4.9" fill="#8bcf9f" stroke="#5cb97a" stroke-width="0.7"/>
<ellipse cx="193.5" cy="890.7" rx="5.6" ry="4.9" fill="#8bcf9f" stroke="#5cb97a" stroke-width="0.7"/>
<ellipse cx="356.2" cy="890.7" rx="5.6" ry="4.9" fill="#8bcf9f" stroke="#5cb97a" stroke-width="0.7"/>
<ellipse cx="462.7" cy="890.7" rx="5.6" ry="4.9" fill="#8bcf9f" stroke="#5cb97a" stroke-width="0.7"/>
<ellipse cx="519" cy="890.7" rx="5.6" ry="4.9" fill="#8bcf9f" stroke="#5cb97a" stroke-width="0.7"/>
<ellipse cx="541.3" cy="909.5" rx="5.6" ry="4.9" fill="#8bcf9f" stroke="#5cb97a" stroke-width="0.7"/>
<ellipse cx="548.8" cy="914.8" rx="5.6" ry="4.9" fill="#8bcf9f" stroke="#5cb97a" stroke-width="0.7"/>
<ellipse cx="556.2" cy="920.5" rx="5.6" ry="4.9" fill="#8bcf9f" stroke="#5cb97a" stroke-width="0.7"/>
<ellipse cx="559.5" cy="923.4" rx="5.6" ry="4.9" fill="#8bcf9f" stroke="#5cb97a" stroke-width="0.7"/>
<ellipse cx="355.7" cy="934.6" rx="5.6" ry="4.9" fill="#8bcf9f" stroke="#5cb97a" stroke-width="0.7"/>
<ellipse cx="519" cy="934.6" rx="5.6" ry="4.9" fill="#8bcf9f" stroke="#5cb97a" stroke-width="0.7"/>
<ellipse cx="523.1" cy="937" rx="5.6" ry="4.9" fill="#8bcf9f" stroke="#5cb97a" stroke-width="0.7"/>
<ellipse cx="573.6" cy="934.6" rx="5.6" ry="4.9" fill="#8bcf9f" stroke="#5cb97a" stroke-width="0.7"/>
<ellipse cx="576.9" cy="937.1" rx="5.6" ry="4.9" fill="#8bcf9f" stroke="#5cb97a" stroke-width="0.7"/>
<ellipse cx="589.3" cy="947.8" rx="5.6" ry="4.9" fill="#8bcf9f" stroke="#5cb97a" stroke-width="0.7"/>
<ellipse cx="596" cy="952.8" rx="5.6" ry="4.9" fill="#8bcf9f" stroke="#5cb97a" stroke-width="0.7"/>
<ellipse cx="598.4" cy="955.3" rx="5.6" ry="4.9" fill="#8bcf9f" stroke="#5cb97a" stroke-width="0.7"/>
<ellipse cx="411.4" cy="978.8" rx="5.6" ry="4.9" fill="#8bcf9f" stroke="#5cb97a" stroke-width="0.7"/>
<ellipse cx="628.3" cy="978.8" rx="5.6" ry="4.9" fill="#8bcf9f" stroke="#5cb97a" stroke-width="0.7"/>
<ellipse cx="638.1" cy="987.2" rx="5.6" ry="4.9" fill="#8bcf9f" stroke="#5cb97a" stroke-width="0.7"/>
<ellipse cx="650.6" cy="997.2" rx="5.6" ry="4.9" fill="#8bcf9f" stroke="#5cb97a" stroke-width="0.7"/>
<ellipse cx="573.6" cy="1023.1" rx="5.6" ry="4.9" fill="#8bcf9f" stroke="#5cb97a" stroke-width="0.7"/>
<ellipse cx="681.6" cy="1023.1" rx="5.6" ry="4.9" fill="#8bcf9f" stroke="#5cb97a" stroke-width="0.7"/>
<ellipse cx="689.2" cy="1028.6" rx="5.6" ry="4.9" fill="#8bcf9f" stroke="#5cb97a" stroke-width="0.7"/>
<ellipse cx="705.1" cy="1041.8" rx="5.6" ry="4.9" fill="#8bcf9f" stroke="#5cb97a" stroke-width="0.7"/>
<ellipse cx="711.3" cy="1045.9" rx="5.6" ry="4.9" fill="#8bcf9f" stroke="#5cb97a" stroke-width="0.7"/>
<ellipse cx="732.5" cy="1063.6" rx="5.6" ry="4.9" fill="#8bcf9f" stroke="#5cb97a" stroke-width="0.7"/>
<ellipse cx="762.9" cy="1087.8" rx="5.6" ry="4.9" fill="#8bcf9f" stroke="#5cb97a" stroke-width="0.7"/>
<ellipse cx="797" cy="1116.3" rx="5.6" ry="4.9" fill="#8bcf9f" stroke="#5cb97a" stroke-width="0.7"/>
<ellipse cx="191.5" cy="1023.1" rx="5.6" ry="4.9" fill="#ee6d57" stroke="#dd5540" stroke-width="0.7"/>
<ellipse cx="197.6" cy="1068.6" rx="5.6" ry="4.9" fill="#ee6d57" stroke="#dd5540" stroke-width="0.7"/>
<ellipse cx="248.9" cy="1068.6" rx="5.6" ry="4.9" fill="#ee6d57" stroke="#dd5540" stroke-width="0.7"/>
<ellipse cx="220.5" cy="1088.1" rx="5.6" ry="4.9" fill="#ee6d57" stroke="#dd5540" stroke-width="0.7"/>
<ellipse cx="307.7" cy="1116.3" rx="5.6" ry="4.9" fill="#ee6d57" stroke="#dd5540" stroke-width="0.7"/>
<path d="M110.6 692.5 V1198.4 H825.5" fill="none" stroke="#231f20" stroke-width="1.3"/>
<line x1="246.9" y1="693" x2="246.9" y2="1208.5" stroke="#231f20" stroke-width="2.8"/>
<line x1="482.8" y1="693" x2="482.8" y2="1198.4" stroke="#231f20" stroke-width="2.8"/>
<line x1="102.3" y1="962.8" x2="824.7" y2="962.8" stroke="#231f20" stroke-width="2"/>
<line x1="102.3" y1="727.6" x2="110.6" y2="727.6" stroke="#231f20" stroke-width="1.3"/>
<line x1="102.3" y1="816.5" x2="110.6" y2="816.5" stroke="#231f20" stroke-width="1.3"/>
<line x1="102.3" y1="875" x2="110.6" y2="875" stroke="#231f20" stroke-width="1.3"/>
<line x1="102.3" y1="1021" x2="110.6" y2="1021" stroke="#231f20" stroke-width="1.3"/>
<line x1="102.3" y1="1109.5" x2="110.6" y2="1109.5" stroke="#231f20" stroke-width="1.3"/>
<line x1="102.3" y1="1167.6" x2="110.6" y2="1167.6" stroke="#231f20" stroke-width="1.3"/>
<line x1="428.2" y1="1198.4" x2="428.2" y2="1208.6" stroke="#231f20" stroke-width="1.3"/>
<line x1="608" y1="1198.4" x2="608" y2="1208.6" stroke="#231f20" stroke-width="1.3"/>
<line x1="789" y1="1198.4" x2="789" y2="1208.6" stroke="#231f20" stroke-width="1.3"/>
<text x="89" y="734.5" font-size="23.2" text-anchor="end" textLength="28.7" lengthAdjust="spacingAndGlyphs">40</text>
<text x="89" y="823.6" font-size="23.2" text-anchor="end" textLength="24.7" lengthAdjust="spacingAndGlyphs">10</text>
<text x="89" y="880.6" font-size="23.2" text-anchor="end" textLength="13.9" lengthAdjust="spacingAndGlyphs">4</text>
<text x="89" y="969.3" font-size="23.2" text-anchor="end" textLength="8.2" lengthAdjust="spacingAndGlyphs">1</text>
<text x="89" y="1028.5" font-size="23.2" text-anchor="end" textLength="33.6" lengthAdjust="spacingAndGlyphs">0.4</text>
<text x="89" y="1116.3" font-size="23.2" text-anchor="end" textLength="27.8" lengthAdjust="spacingAndGlyphs">0.1</text>
<text x="89" y="1174.5" font-size="23.2" text-anchor="end" textLength="48.8" lengthAdjust="spacingAndGlyphs">0.04</text>
<text x="246.6" y="1237.7" font-size="23.2" text-anchor="middle" textLength="8.2" lengthAdjust="spacingAndGlyphs">1</text>
<text x="427.8" y="1237.7" font-size="23.2" text-anchor="middle" textLength="24.1" lengthAdjust="spacingAndGlyphs">10</text>
<text x="606.3" y="1237.7" font-size="23.2" text-anchor="middle" textLength="39.8" lengthAdjust="spacingAndGlyphs">100</text>
<text x="788.6" y="1237.7" font-size="23.2" text-anchor="middle" textLength="61" lengthAdjust="spacingAndGlyphs">1,000</text>
<text x="365" y="1281.8" font-size="26.5" textLength="192.5" lengthAdjust="spacingAndGlyphs">MPS selectivity</text>
<text transform="translate(29.4 949.9) rotate(-90)" font-size="28.2" text-anchor="middle"><tspan font-style="italic">Mtb</tspan> MIC<tspan font-size="19.5" dy="8.5">95</tspan><tspan dy="-8.5"> (mM)</tspan></text>
<rect x="478.3" y="968.1" width="335.5" height="230.2" rx="37" fill="none" stroke="#29ab56" stroke-width="6.8"/>
<line x1="675.2" y1="926.3" x2="646.5" y2="973.3" stroke="#231f20" stroke-width="1.8"/><polygon points="642.2,980.3 644.4,968.7 646.5,973.3 651.5,973.1" fill="#231f20"/>
<rect x="959" y="734" width="726" height="447" fill="#fdfdfd"/>
<ellipse cx="1017.8" cy="753.9" rx="5.9" ry="5.1" fill="#3d9bd7"/>
<ellipse cx="994.2" cy="838.2" rx="5.9" ry="5.1" fill="#3d9bd7"/>
<ellipse cx="1001.6" cy="836.9" rx="5.9" ry="5.1" fill="#3d9bd7"/>
<ellipse cx="1022" cy="838.2" rx="5.9" ry="5.1" fill="#3d9bd7"/>
<ellipse cx="1046.4" cy="827.7" rx="5.9" ry="5.1" fill="#3d9bd7"/>
<ellipse cx="1063.8" cy="829.5" rx="5.9" ry="5.1" fill="#3d9bd7"/>
<ellipse cx="1041.4" cy="841.4" rx="5.9" ry="5.1" fill="#3d9bd7"/>
<ellipse cx="1073.7" cy="851.3" rx="5.9" ry="5.1" fill="#3d9bd7"/>
<ellipse cx="1038.9" cy="857.6" rx="5.9" ry="5.1" fill="#3d9bd7"/>
<ellipse cx="1031.4" cy="861.3" rx="5.9" ry="5.1" fill="#3d9bd7"/>
<ellipse cx="1027.7" cy="865" rx="5.9" ry="5.1" fill="#3d9bd7"/>
<ellipse cx="1017.8" cy="866.8" rx="5.9" ry="5.1" fill="#3d9bd7"/>
<ellipse cx="1022.7" cy="871.2" rx="5.9" ry="5.1" fill="#3d9bd7"/>
<ellipse cx="1025.2" cy="873.7" rx="5.9" ry="5.1" fill="#3d9bd7"/>
<ellipse cx="1020" cy="869" rx="5.9" ry="5.1" fill="#3d9bd7"/>
<ellipse cx="1058.8" cy="865" rx="5.9" ry="5.1" fill="#3d9bd7"/>
<ellipse cx="1047.6" cy="871.2" rx="5.9" ry="5.1" fill="#3d9bd7"/>
<ellipse cx="1042.6" cy="873.7" rx="5.9" ry="5.1" fill="#3d9bd7"/>
<ellipse cx="1048.4" cy="878.2" rx="5.9" ry="5.1" fill="#3d9bd7"/>
<ellipse cx="1068.2" cy="873.2" rx="5.9" ry="5.1" fill="#3d9bd7"/>
<ellipse cx="1015.3" cy="877.4" rx="5.9" ry="5.1" fill="#3d9bd7"/>
<ellipse cx="1018" cy="874" rx="5.9" ry="5.1" fill="#3d9bd7"/>
<ellipse cx="1002.9" cy="890.4" rx="5.9" ry="5.1" fill="#3d9bd7"/>
<ellipse cx="1023.5" cy="887.4" rx="5.9" ry="5.1" fill="#3d9bd7"/>
<ellipse cx="1038.9" cy="889.9" rx="5.9" ry="5.1" fill="#3d9bd7"/>
<ellipse cx="1040.2" cy="893.6" rx="5.9" ry="5.1" fill="#3d9bd7"/>
<ellipse cx="1047.6" cy="898.6" rx="5.9" ry="5.1" fill="#3d9bd7"/>
<ellipse cx="1093.1" cy="889.1" rx="5.9" ry="5.1" fill="#3d9bd7"/>
<ellipse cx="1107.3" cy="887.6" rx="5.9" ry="5.1" fill="#3d9bd7"/>
<ellipse cx="1021.5" cy="902.4" rx="5.9" ry="5.1" fill="#3d9bd7"/>
<ellipse cx="1014" cy="908.5" rx="5.9" ry="5.1" fill="#3d9bd7"/>
<ellipse cx="1012.8" cy="909.9" rx="5.9" ry="5.1" fill="#3d9bd7"/>
<ellipse cx="1015.3" cy="914.9" rx="5.9" ry="5.1" fill="#3d9bd7"/>
<ellipse cx="1007.5" cy="916.9" rx="5.9" ry="5.1" fill="#3d9bd7"/>
<ellipse cx="1045.1" cy="929.8" rx="5.9" ry="5.1" fill="#3d9bd7"/>
<ellipse cx="1090.6" cy="921.2" rx="5.9" ry="5.1" fill="#3d9bd7"/>
<ellipse cx="1084.8" cy="925.6" rx="5.9" ry="5.1" fill="#3d9bd7"/>
<ellipse cx="1058.3" cy="937.2" rx="5.9" ry="5.1" fill="#3d9bd7"/>
<ellipse cx="1017" cy="938.9" rx="5.9" ry="5.1" fill="#3d9bd7"/>
<ellipse cx="988" cy="943.9" rx="5.9" ry="5.1" fill="#3d9bd7"/>
<ellipse cx="1012" cy="946.3" rx="5.9" ry="5.1" fill="#3d9bd7"/>
<ellipse cx="1072.1" cy="942.2" rx="5.9" ry="5.1" fill="#3d9bd7"/>
<ellipse cx="1055" cy="948" rx="5.9" ry="5.1" fill="#3d9bd7"/>
<ellipse cx="1047.2" cy="952.6" rx="5.9" ry="5.1" fill="#3d9bd7"/>
<ellipse cx="1002.1" cy="957.9" rx="5.9" ry="5.1" fill="#3d9bd7"/>
<ellipse cx="1020.8" cy="956.8" rx="5.9" ry="5.1" fill="#3d9bd7"/>
<ellipse cx="1003.4" cy="966.2" rx="5.9" ry="5.1" fill="#3d9bd7"/>
<ellipse cx="1068.2" cy="956.3" rx="5.9" ry="5.1" fill="#3d9bd7"/>
<ellipse cx="1078.7" cy="961.6" rx="5.9" ry="5.1" fill="#3d9bd7"/>
<ellipse cx="1084.3" cy="973.3" rx="5.9" ry="5.1" fill="#3d9bd7"/>
<ellipse cx="1135.3" cy="902.5" rx="5.9" ry="5.1" fill="#3d9bd7"/>
<ellipse cx="1156.4" cy="907.4" rx="5.9" ry="5.1" fill="#3d9bd7"/>
<ellipse cx="1154.3" cy="921.5" rx="5.9" ry="5.1" fill="#3d9bd7"/>
<ellipse cx="1141.9" cy="943.5" rx="5.9" ry="5.1" fill="#3d9bd7"/>
<ellipse cx="1175.3" cy="968.2" rx="5.9" ry="5.1" fill="#3d9bd7"/>
<ellipse cx="1151" cy="992.3" rx="5.9" ry="5.1" fill="#3d9bd7"/>
<ellipse cx="1211.7" cy="991.8" rx="5.9" ry="5.1" fill="#3d9bd7"/>
<ellipse cx="1221.3" cy="983.2" rx="5.9" ry="5.1" fill="#3d9bd7"/>
<ellipse cx="1122.9" cy="1004.3" rx="5.9" ry="5.1" fill="#3d9bd7"/>
<ellipse cx="1146.9" cy="1028.7" rx="5.9" ry="5.1" fill="#3d9bd7"/>
<ellipse cx="1219.7" cy="919.9" rx="5.9" ry="5.1" fill="#3d9bd7"/>
<ellipse cx="1227.6" cy="924.8" rx="5.9" ry="5.1" fill="#3d9bd7"/>
<ellipse cx="1243" cy="919.8" rx="5.9" ry="5.1" fill="#3d9bd7"/>
<ellipse cx="1215.5" cy="1050.9" rx="5.9" ry="5.1" fill="#3d9bd7"/>
<ellipse cx="1219.3" cy="1055.2" rx="5.9" ry="5.1" fill="#3d9bd7"/>
<ellipse cx="996.3" cy="993" rx="5.9" ry="5.1" fill="#3d9bd7"/>
<ellipse cx="1002.6" cy="996" rx="5.9" ry="5.1" fill="#3d9bd7"/>
<ellipse cx="1002.6" cy="999" rx="5.9" ry="5.1" fill="#3d9bd7"/>
<ellipse cx="1010.3" cy="1007.1" rx="5.9" ry="5.1" fill="#3d9bd7"/>
<ellipse cx="1033.5" cy="1007.2" rx="5.9" ry="5.1" fill="#3d9bd7"/>
<ellipse cx="1039.3" cy="1013.4" rx="5.9" ry="5.1" fill="#3d9bd7"/>
<ellipse cx="1034.3" cy="1015.5" rx="5.9" ry="5.1" fill="#3d9bd7"/>
<ellipse cx="1009.2" cy="1021.1" rx="5.9" ry="5.1" fill="#3d9bd7"/>
<ellipse cx="1068.7" cy="1018.3" rx="5.9" ry="5.1" fill="#3d9bd7"/>
<ellipse cx="1064.9" cy="1028.2" rx="5.9" ry="5.1" fill="#3d9bd7"/>
<ellipse cx="1065.6" cy="1031.5" rx="5.9" ry="5.1" fill="#3d9bd7"/>
<ellipse cx="1066.6" cy="1037.7" rx="5.9" ry="5.1" fill="#3d9bd7"/>
<ellipse cx="1046.7" cy="1026.6" rx="5.9" ry="5.1" fill="#3d9bd7"/>
<ellipse cx="1046.7" cy="1040.3" rx="5.9" ry="5.1" fill="#3d9bd7"/>
<ellipse cx="1025.2" cy="1037.8" rx="5.9" ry="5.1" fill="#3d9bd7"/>
<ellipse cx="1019.1" cy="1050.9" rx="5.9" ry="5.1" fill="#3d9bd7"/>
<ellipse cx="1069.9" cy="1061.3" rx="5.9" ry="5.1" fill="#3d9bd7"/>
<ellipse cx="1074.9" cy="1063" rx="5.9" ry="5.1" fill="#3d9bd7"/>
<ellipse cx="1055.5" cy="1096.1" rx="5.9" ry="5.1" fill="#3d9bd7"/>
<ellipse cx="1015.3" cy="1101.6" rx="5.9" ry="5.1" fill="#3d9bd7"/>
<ellipse cx="1015.9" cy="1114.9" rx="5.9" ry="5.1" fill="#3d9bd7"/>
<ellipse cx="1143.8" cy="1127.2" rx="5.9" ry="5.1" fill="#3d9bd7"/>
<ellipse cx="1155.4" cy="1133" rx="5.9" ry="5.1" fill="#3d9bd7"/>
<ellipse cx="1204.8" cy="1160.9" rx="5.9" ry="5.1" fill="#3d9bd7"/>
<ellipse cx="1138.4" cy="822.7" rx="5.9" ry="5.1" fill="#3d9bd7"/>
<ellipse cx="1182.6" cy="833.9" rx="5.9" ry="5.1" fill="#3d9bd7"/>
<ellipse cx="1212.2" cy="830.7" rx="5.9" ry="5.1" fill="#3d9bd7"/>
<ellipse cx="1218.4" cy="816.5" rx="5.9" ry="5.1" fill="#3d9bd7"/>
<ellipse cx="1175.2" cy="888.6" rx="5.9" ry="5.1" fill="#3d9bd7"/>
<ellipse cx="1247" cy="886.8" rx="5.9" ry="5.1" fill="#3d9bd7"/>
<ellipse cx="1220.4" cy="919.7" rx="5.9" ry="5.1" fill="#3d9bd7"/>
<ellipse cx="1242.3" cy="920.2" rx="5.9" ry="5.1" fill="#3d9bd7"/>
<ellipse cx="1306.6" cy="923.6" rx="5.9" ry="5.1" fill="#3d9bd7"/>
<ellipse cx="1369.6" cy="945.2" rx="5.9" ry="5.1" fill="#3d9bd7"/>
<ellipse cx="1264.9" cy="959.2" rx="5.9" ry="5.1" fill="#3d9bd7"/>
<ellipse cx="1650.4" cy="979.5" rx="5.9" ry="5.1" fill="#3d9bd7"/>
<ellipse cx="1471.3" cy="1041.8" rx="5.9" ry="5.1" fill="#3d9bd7"/>
<line x1="1143.5" y1="735" x2="1143.5" y2="1181" stroke="#231f20" stroke-width="1.7" stroke-dasharray="5.5 2.5"/>
<line x1="959" y1="933.4" x2="1679.6" y2="933.4" stroke="#231f20" stroke-width="1.6" stroke-dasharray="6 3"/>
<path d="M958.5 734.4 V1181.3 H1685.2" fill="none" stroke="#231f20" stroke-width="1.3"/>
<line x1="949.5" y1="1164.9" x2="958.5" y2="1164.9" stroke="#231f20" stroke-width="1.3"/>
<line x1="949.5" y1="1134" x2="958.5" y2="1134" stroke="#231f20" stroke-width="1.3"/>
<line x1="949.5" y1="1103.1" x2="958.5" y2="1103.1" stroke="#231f20" stroke-width="1.3"/>
<line x1="949.5" y1="1072.3" x2="958.5" y2="1072.3" stroke="#231f20" stroke-width="1.3"/>
<line x1="949.5" y1="1041.4" x2="958.5" y2="1041.4" stroke="#231f20" stroke-width="1.3"/>
<line x1="949.5" y1="1010.6" x2="958.5" y2="1010.6" stroke="#231f20" stroke-width="1.3"/>
<line x1="949.5" y1="979.7" x2="958.5" y2="979.7" stroke="#231f20" stroke-width="1.3"/>
<line x1="949.5" y1="948.8" x2="958.5" y2="948.8" stroke="#231f20" stroke-width="1.3"/>
<line x1="949.5" y1="918" x2="958.5" y2="918" stroke="#231f20" stroke-width="1.3"/>
<line x1="949.5" y1="887.1" x2="958.5" y2="887.1" stroke="#231f20" stroke-width="1.3"/>
<line x1="949.5" y1="856.3" x2="958.5" y2="856.3" stroke="#231f20" stroke-width="1.3"/>
<line x1="949.5" y1="825.4" x2="958.5" y2="825.4" stroke="#231f20" stroke-width="1.3"/>
<line x1="949.5" y1="794.5" x2="958.5" y2="794.5" stroke="#231f20" stroke-width="1.3"/>
<line x1="949.5" y1="763.7" x2="958.5" y2="763.7" stroke="#231f20" stroke-width="1.3"/>
<text x="935.3" y="770.8" font-size="23.6" text-anchor="end">6.4</text>
<text x="935.3" y="832.5" font-size="23.6" text-anchor="end">6</text>
<text x="935.3" y="894.2" font-size="23.6" text-anchor="end">5.6</text>
<text x="935.3" y="955.9" font-size="23.6" text-anchor="end">5.2</text>
<text x="935.3" y="1017.7" font-size="23.6" text-anchor="end">4.8</text>
<text x="935.3" y="1079.4" font-size="23.6" text-anchor="end">4.4</text>
<text x="935.3" y="1141.1" font-size="23.6" text-anchor="end">4</text>
<line x1="980.9" y1="1181.3" x2="980.9" y2="1189.3" stroke="#231f20" stroke-width="1.3"/>
<text x="980.9" y="1218.8" font-size="23.4" text-anchor="middle" textLength="15.8" lengthAdjust="spacingAndGlyphs">0</text>
<line x1="1035.3" y1="1181.3" x2="1035.3" y2="1189.3" stroke="#231f20" stroke-width="1.3"/>
<text x="1035.3" y="1218.8" font-size="23.4" text-anchor="middle" textLength="8.5" lengthAdjust="spacingAndGlyphs">1</text>
<line x1="1089.8" y1="1181.3" x2="1089.8" y2="1189.3" stroke="#231f20" stroke-width="1.3"/>
<text x="1089.8" y="1218.8" font-size="23.4" text-anchor="middle" textLength="13.5" lengthAdjust="spacingAndGlyphs">2</text>
<line x1="1144.2" y1="1181.3" x2="1144.2" y2="1189.3" stroke="#231f20" stroke-width="1.3"/>
<text x="1144.2" y="1218.8" font-size="23.4" text-anchor="middle" textLength="13.9" lengthAdjust="spacingAndGlyphs">3</text>
<line x1="1198.7" y1="1181.3" x2="1198.7" y2="1189.3" stroke="#231f20" stroke-width="1.3"/>
<text x="1198.7" y="1218.8" font-size="23.4" text-anchor="middle" textLength="13.9" lengthAdjust="spacingAndGlyphs">4</text>
<line x1="1253.2" y1="1181.3" x2="1253.2" y2="1189.3" stroke="#231f20" stroke-width="1.3"/>
<text x="1253.2" y="1218.8" font-size="23.4" text-anchor="middle" textLength="13.9" lengthAdjust="spacingAndGlyphs">5</text>
<line x1="1307.6" y1="1181.3" x2="1307.6" y2="1189.3" stroke="#231f20" stroke-width="1.3"/>
<text x="1307.6" y="1218.8" font-size="23.4" text-anchor="middle" textLength="13.9" lengthAdjust="spacingAndGlyphs">6</text>
<line x1="1362" y1="1181.3" x2="1362" y2="1189.3" stroke="#231f20" stroke-width="1.3"/>
<text x="1362" y="1218.8" font-size="23.4" text-anchor="middle" textLength="13.9" lengthAdjust="spacingAndGlyphs">7</text>
<line x1="1416.5" y1="1181.3" x2="1416.5" y2="1189.3" stroke="#231f20" stroke-width="1.3"/>
<text x="1416.5" y="1218.8" font-size="23.4" text-anchor="middle" textLength="13.9" lengthAdjust="spacingAndGlyphs">8</text>
<line x1="1471" y1="1181.3" x2="1471" y2="1189.3" stroke="#231f20" stroke-width="1.3"/>
<text x="1471" y="1218.8" font-size="23.4" text-anchor="middle" textLength="13.9" lengthAdjust="spacingAndGlyphs">9</text>
<line x1="1525.4" y1="1181.3" x2="1525.4" y2="1189.3" stroke="#231f20" stroke-width="1.3"/>
<text x="1525.4" y="1218.8" font-size="23.4" text-anchor="middle" textLength="25.1" lengthAdjust="spacingAndGlyphs">10</text>
<line x1="1579.8" y1="1181.3" x2="1579.8" y2="1189.3" stroke="#231f20" stroke-width="1.3"/>
<text x="1579.8" y="1218.8" font-size="23.4" text-anchor="middle" textLength="19" lengthAdjust="spacingAndGlyphs">11</text>
<line x1="1634.3" y1="1181.3" x2="1634.3" y2="1189.3" stroke="#231f20" stroke-width="1.3"/>
<text x="1634.3" y="1218.8" font-size="23.4" text-anchor="middle" textLength="22.6" lengthAdjust="spacingAndGlyphs">12</text>
<text x="1241.8" y="1262.7" font-size="26.4" textLength="157.5" lengthAdjust="spacingAndGlyphs">Rat MRT (IV)</text>
<text transform="translate(885.8 965.8) rotate(-90)" font-size="27.5" text-anchor="middle" textLength="93.5" lengthAdjust="spacingAndGlyphs">Rat VLE</text>
<rect x="1143.7" y="731" width="335.2" height="204.6" rx="40" fill="none" stroke="#29ab56" stroke-width="7.3"/>
<line x1="1283.3" y1="826.4" x2="1254.1" y2="874" stroke="#231f20" stroke-width="1.7"/><polygon points="1250.2,880.4 1252,869.8 1254.1,874 1258.8,874" fill="#231f20"/>
</svg>
</body></html>
